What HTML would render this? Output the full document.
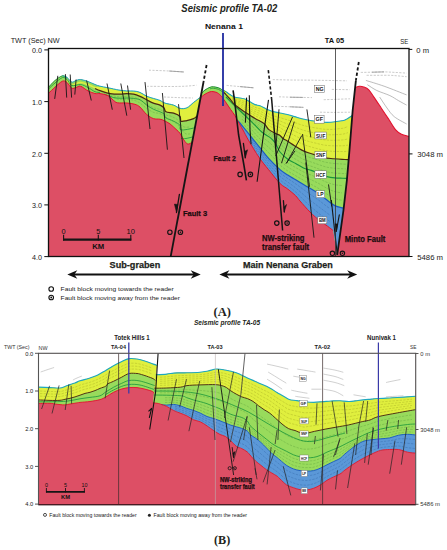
<!DOCTYPE html>
<html><head><meta charset="utf-8"><title>Seismic profiles</title>
<style>html,body{margin:0;padding:0;background:#fff;}body{width:447px;height:550px;overflow:hidden;font-family:"Liberation Sans",sans-serif;}svg{display:block;}</style>
</head><body>
<svg width="447" height="550" viewBox="0 0 447 550">
<rect x="48.5" y="48.5" width="360.5" height="208" fill="#DD4F65"/>
<path d="M48.5,48.5 L409,48.5 L409,136.4 L409,136.4 C407.8,136 403.7,135.3 401.5,134.2 C399.3,133.1 397.9,132.4 395.7,129.8 C393.5,127.3 390.9,122.5 388.5,118.9 C386.1,115.3 383.6,111.6 381.2,108 C378.8,104.4 376,100.1 373.9,97.1 C371.8,94.1 370.5,91.5 368.8,89.8 C367.1,88.1 365.3,87.5 363.7,86.9 C362.1,86.3 360.8,86.1 359.4,86.2 C358,86.3 355.8,87.4 355.1,87.6 L355.1,87.6 L352.7,110 L352.3,115.5 L352.3,115.5 C351.1,116.2 347,119.1 345,120 C343,120.9 342.4,120.6 340,121 C337.6,121.4 333.6,122 330.9,122.2 C328.2,122.4 326,122.4 323.6,122.2 C321.2,122 318.8,121.6 316.4,121.3 C314,121 311.5,120.7 309.1,120.3 C306.7,119.9 304.2,119.4 301.8,118.8 C299.4,118.2 296.9,117.3 294.5,116.6 C292.1,115.9 289.7,115.1 287.3,114.5 C284.9,113.9 282.6,113.5 280,113 C277.4,112.5 274.3,112 272,111.3 C269.7,110.6 268.2,109.8 266.2,108.9 C264.2,108 261.9,106.5 260,105.8 C258.1,105.1 256.7,105.3 255,104.6 C253.3,103.9 251.7,102.7 250,101.8 C248.3,100.9 246.7,99.6 245,99 C243.3,98.4 241.7,98.3 240,98 C238.3,97.7 236.7,97.8 235.1,97.3 C233.5,96.8 232.2,96 230.7,95.1 C229.2,94.2 227.7,92.6 226.2,91.7 C224.7,90.8 223,90.2 221.7,89.5 C220.4,88.8 219.8,88.2 218.4,87.8 C217,87.3 214.8,86.9 213.4,86.8 C212,86.7 211.4,86.8 210,87.3 C208.6,87.8 206.4,89 205,90 C203.6,91 201.9,92.9 201.3,93.5 L200.7,97 C199.5,97.9 195.9,100.6 193.6,102.4 C191.3,104.2 189.1,106.8 186.8,107.8 C184.5,108.8 182.2,108.8 180,108.3 C177.8,107.8 176.1,106 173.6,105.1 C171.1,104.2 167.3,103.9 165,103.1 C162.7,102.3 161.9,101.2 160,100.4 C158.1,99.6 155.6,99.1 153.4,98.4 C151.2,97.7 148.9,97.2 146.7,96.2 C144.5,95.2 142.2,93.3 140,92.4 C137.8,91.5 135.8,91.2 133.6,91 C131.4,90.8 129.1,91 126.8,90.9 C124.5,90.8 122.2,90.5 120,90.2 C117.8,89.9 115.6,89.4 113.4,88.9 C111.2,88.5 108.9,88 106.7,87.5 C104.5,87 102,86.7 100,86.2 C98,85.7 97,85.3 95,84.5 C93,83.7 90.4,82.3 88,81.5 C85.6,80.7 82.6,79.7 80.6,79.5 C78.6,79.3 77.5,80.1 76,80.5 C74.5,80.9 73.3,82.6 71.8,82.1 C70.3,81.6 68.6,78.5 67,77.5 C65.4,76.5 64.4,75.3 62.4,75.8 C60.4,76.3 57.3,78.6 55,80.5 C52.7,82.4 49.6,86.2 48.5,87.3 Z" fill="#fff"/>
<path d="M48.5,87.3 C49.6,86.2 52.7,82.4 55,80.5 C57.3,78.6 60.4,76.3 62.4,75.8 C64.4,75.3 65.4,76.5 67,77.5 C68.6,78.5 70.3,81.6 71.8,82.1 C73.3,82.6 74.5,80.9 76,80.5 C77.5,80.1 78.6,79.3 80.6,79.5 C82.6,79.7 85.6,80.7 88,81.5 C90.4,82.3 93,83.7 95,84.5 C97,85.3 98,85.7 100,86.2 C102,86.7 104.5,87 106.7,87.5 C108.9,88 111.2,88.5 113.4,88.9 C115.6,89.4 117.8,89.9 120,90.2 C122.2,90.5 124.5,90.8 126.8,90.9 C129.1,91 131.4,90.8 133.6,91 C135.8,91.2 137.8,91.5 140,92.4 C142.2,93.3 144.5,95.2 146.7,96.2 C148.9,97.2 151.2,97.7 153.4,98.4 C155.6,99.1 158.1,99.6 160,100.4 C161.9,101.2 162.7,102.3 165,103.1 C167.3,103.9 171.1,104.2 173.6,105.1 C176.1,106 177.8,107.8 180,108.3 C182.2,108.8 184.5,108.8 186.8,107.8 C189.1,106.8 191.3,104.2 193.6,102.4 C195.9,100.6 199.5,97.9 200.7,97  L192.4,141 C192.3,141.2 192.1,142 191.5,142.5 C190.9,143 189.8,143.9 189,144 C188.2,144.1 187.5,144.2 186.5,143.3 C185.5,142.4 184.1,140.4 183,138.7 C181.9,137 181.2,134.9 180,133.3 C178.8,131.7 177.7,130.9 176,129.3 C174.3,127.7 172,125.4 170,123.9 C168,122.5 165.7,121.4 164,120.6 C162.3,119.8 161.8,119.5 160,119.2 C158.2,118.9 155.6,119.4 153.4,118.6 C151.2,117.8 148.9,116.4 146.7,114.5 C144.5,112.6 142,108.8 140,107.1 C138,105.4 137.1,105 134.9,104.3 C132.7,103.6 129.7,103.2 126.8,103 C123.9,102.8 119.6,103.2 117.4,102.8 C115.2,102.3 115,101.5 113.4,100.3 C111.8,99.1 110.2,96.7 108,95.6 C105.8,94.5 102.2,93.9 100,93.6 C97.8,93.2 97,94 95,93.5 C93,93 90.4,92.1 88,90.9 C85.6,89.7 82.6,86.8 80.6,86.2 C78.6,85.6 77.5,87.2 76,87.5 C74.5,87.8 73.3,89 71.8,88.2 C70.3,87.4 68.6,83.7 67,82.5 C65.4,81.3 64.4,80.4 62.4,81.2 C60.4,82 57.3,85.2 55,87.2 C52.7,89.2 49.6,92.3 48.5,93.3 Z" fill="#98DB5C"/>
<path d="M67,79.8 C67.8,80.6 70.3,83.9 71.8,84.4 C73.3,84.9 74.5,83.2 76,82.8 C77.5,82.4 78.6,81.6 80.6,81.8 C82.6,82 85.6,83 88,83.8 C90.4,84.6 93,86.3 95,86.8 C97,87.3 98,86.6 100,86.8 C102,87 104.5,87.6 106.7,88.1 C108.9,88.5 111.2,89 113.4,89.5 C115.6,90 117.8,90.5 120,90.8 C122.2,91.1 124.5,91.4 126.8,91.5 C129.1,91.6 131.4,91.3 133.6,91.6 C135.8,91.8 137.8,92.1 140,93 C142.2,93.9 144.5,95.8 146.7,96.8 C148.9,97.8 151.2,98.3 153.4,99 C155.6,99.7 158.1,100.2 160,101 C161.9,101.8 162.7,102.9 165,103.7 C167.3,104.5 171.1,104.8 173.6,105.7 C176.1,106.6 177.8,108.4 180,108.9 C182.2,109.3 184.5,109.4 186.8,108.4 C189.1,107.4 191.3,104.8 193.6,103 C195.9,101.2 199.5,98.5 200.7,97.6  L197.1,116 C196.5,116.4 195.3,117.8 193.6,118.6 C191.9,119.4 188.9,120.2 186.8,120.6 C184.7,121 182.1,121.9 181,121.2 C179.9,120.5 181.2,117.8 180,116.5 C178.8,115.2 175.9,114 173.6,113.2 C171.3,112.4 167.6,112.7 166,111.8 C164.4,110.9 165,108.9 164,107.8 C163,106.7 161.8,105.9 160,105.1 C158.2,104.3 155.6,104 153.4,103.1 C151.2,102.2 148.9,100.9 146.7,99.8 C144.5,98.7 142.2,97.3 140,96.4 C137.8,95.5 135.8,94.7 133.6,94.2 C131.4,93.7 129.1,93.6 126.8,93.6 C124.5,93.6 122.8,94.2 120,94.2 C117.2,94.2 113.3,94.2 110,93.6 C106.7,93 102.5,91.4 100,90.6 C97.5,89.8 97,89.3 95,88.5 C93,87.7 90.4,86.4 88,85.5 C85.6,84.6 83.3,83.3 80.6,83.3 C77.9,83.3 74.2,86 71.8,85.5 C69.4,85 67,80.9 66,80 Z" fill="#E0EF3E"/>
<path d="M48.5,89 C49.6,88 52.7,84.9 55,83 C57.3,81.1 60.4,78.2 62.4,77.6 C64.4,77 65.4,78.2 67,79.5 C68.6,80.8 69.5,84.7 71.8,85.5 C74.1,86.3 77.9,84.2 80.6,84.5 C83.3,84.8 85.6,86.3 88,87.5 C90.4,88.7 93,90.9 95,91.7 C97,92.5 99.2,92.4 100,92.5" fill="none" stroke="#19963A" stroke-width="0.8" />
<path d="M104,94 C105.6,94.6 110.7,96.8 113.4,97.5 C116.1,98.2 117.8,98.1 120,98.2 C122.2,98.3 124.5,98 126.8,98 C129.1,98 131.4,98.2 133.6,98.5 C135.8,98.8 137.8,98.7 140,99.8 C142.2,100.9 144.5,103.5 146.7,105.1 C148.9,106.7 151.2,108.1 153.4,109.2 C155.6,110.3 158.2,111 160,111.8 C161.8,112.6 163,113 164,114 C165,115 164.4,116.7 166,117.9 C167.6,119.1 171.3,120 173.6,121.2 C175.9,122.4 178.8,123.8 180,125.3 C181.2,126.8 178.7,129.6 181,130 C183.3,130.4 191.2,128.7 193.6,128 C196,127.3 195,126.3 195.2,126" fill="none" stroke="#19963A" stroke-width="0.8" />
<path d="M181,138.5 C181.8,138.5 183.9,138.8 186,138.5 C188.1,138.2 192.3,137 193.6,136.7" fill="none" stroke="#19963A" stroke-width="0.8" />
<path d="M95,88.5 C95.8,88.8 97.5,89.8 100,90.6 C102.5,91.4 106.7,93 110,93.6 C113.3,94.2 117.2,94.2 120,94.2 C122.8,94.2 124.5,93.6 126.8,93.6 C129.1,93.6 131.4,93.7 133.6,94.2 C135.8,94.7 137.8,95.5 140,96.4 C142.2,97.3 144.5,98.7 146.7,99.8 C148.9,100.9 151.2,102.2 153.4,103.1 C155.6,104 158.2,104.3 160,105.1 C161.8,105.9 163,106.7 164,107.8 C165,108.9 164.4,110.9 166,111.8 C167.6,112.7 171.3,112.4 173.6,113.2 C175.9,114 178.8,115.2 180,116.5 C181.2,117.8 179.9,120.5 181,121.2 C182.1,121.9 184.7,121 186.8,120.6 C188.9,120.2 191.9,119.4 193.6,118.6 C195.3,117.8 196.5,116.4 197.1,116" fill="none" stroke="#4A2A12" stroke-width="1.25" />
<path d="M48.5,87.3 C49.6,86.2 52.7,82.4 55,80.5 C57.3,78.6 60.4,76.3 62.4,75.8 C64.4,75.3 66.2,77.2 67,77.5" fill="none" stroke="#19963A" stroke-width="0.9" />
<path d="M62.4,75.8 C63.2,76.1 65.4,76.5 67,77.5 C68.6,78.5 70.3,81.6 71.8,82.1 C73.3,82.6 74.5,80.9 76,80.5 C77.5,80.1 78.6,79.3 80.6,79.5 C82.6,79.7 85.6,80.7 88,81.5 C90.4,82.3 93,83.7 95,84.5 C97,85.3 98,85.7 100,86.2 C102,86.7 104.5,87 106.7,87.5 C108.9,88 111.2,88.5 113.4,88.9 C115.6,89.4 117.8,89.9 120,90.2 C122.2,90.5 124.5,90.8 126.8,90.9 C129.1,91 131.4,90.8 133.6,91 C135.8,91.2 137.8,91.5 140,92.4 C142.2,93.3 144.5,95.2 146.7,96.2 C148.9,97.2 151.2,97.7 153.4,98.4 C155.6,99.1 158.1,99.6 160,100.4 C161.9,101.2 162.7,102.3 165,103.1 C167.3,103.9 171.1,104.2 173.6,105.1 C176.1,106 177.8,107.8 180,108.3 C182.2,108.8 184.5,108.8 186.8,107.8 C189.1,106.8 191.3,104.2 193.6,102.4 C195.9,100.6 199.5,97.9 200.7,97" fill="none" stroke="#1FA8BE" stroke-width="1.0" />
<path d="M48.5,93.3 C49.6,92.3 52.7,89.2 55,87.2 C57.3,85.2 60.4,82 62.4,81.2 C64.4,80.4 65.4,81.3 67,82.5 C68.6,83.7 70.3,87.4 71.8,88.2 C73.3,89 74.5,87.8 76,87.5 C77.5,87.2 78.6,85.6 80.6,86.2 C82.6,86.8 85.6,89.7 88,90.9 C90.4,92.1 93,93 95,93.5 C97,94 97.8,93.2 100,93.6 C102.2,93.9 105.8,94.5 108,95.6 C110.2,96.7 111.8,99.1 113.4,100.3 C115,101.5 115.2,102.3 117.4,102.8 C119.6,103.2 123.9,102.8 126.8,103 C129.7,103.2 132.7,103.6 134.9,104.3 C137.1,105 138,105.4 140,107.1 C142,108.8 144.5,112.6 146.7,114.5 C148.9,116.4 151.2,117.8 153.4,118.6 C155.6,119.4 158.2,118.9 160,119.2 C161.8,119.5 162.3,119.8 164,120.6 C165.7,121.4 168,122.5 170,123.9 C172,125.4 174.3,127.7 176,129.3 C177.7,130.9 178.8,131.7 180,133.3 C181.2,134.9 181.9,137 183,138.7 C184.1,140.4 185.5,142.4 186.5,143.3 C187.5,144.2 188.2,144.1 189,144 C189.8,143.9 190.9,143 191.5,142.5 C192.1,142 192.3,141.2 192.4,141" fill="none" stroke="#E3122E" stroke-width="1.0" />
<path d="M201.3,93.5 C201.9,92.9 203.6,91 205,90 C206.4,89 208.6,87.8 210,87.3 C211.4,86.8 212,86.7 213.4,86.8 C214.8,86.9 217,87.3 218.4,87.8 C219.8,88.2 220.4,88.8 221.7,89.5 C223,90.2 224.7,90.8 226.2,91.7 C227.7,92.6 229.2,94.2 230.7,95.1 C232.2,96 233.5,96.8 235.1,97.3 C236.7,97.8 238.3,97.7 240,98 C241.7,98.3 243.3,98.4 245,99 C246.7,99.6 248.3,100.9 250,101.8 C251.7,102.7 253.3,103.9 255,104.6 C256.7,105.3 258.1,105.1 260,105.8 C261.9,106.5 264.2,108 266.2,108.9 C268.2,109.8 269.7,110.6 272,111.3 C274.3,112 277.4,112.5 280,113 C282.6,113.5 284.9,113.9 287.3,114.5 C289.7,115.1 292.1,115.9 294.5,116.6 C296.9,117.3 299.4,118.2 301.8,118.8 C304.2,119.4 306.7,119.9 309.1,120.3 C311.5,120.7 314,121 316.4,121.3 C318.8,121.6 321.2,122 323.6,122.2 C326,122.4 328.2,122.4 330.9,122.2 C333.6,122 337.6,121.4 340,121 C342.4,120.6 343,120.9 345,120 C347,119.1 351.1,116.2 352.3,115.5 L352.3,115.5 L349.5,150 L346.9,180 L343.5,210 L337.2,255 L333.2,230.5 L333.2,230.5 C333,230.3 333.2,230.5 332,229.6 C330.8,228.7 328,226.5 326,225.1 C324,223.7 322.7,223.2 320,221 C317.3,218.8 313.3,215.3 310,212 C306.7,208.7 302.4,203.7 300,201 C297.6,198.3 297.7,197.8 295.7,195.8 C293.7,193.8 290.4,191.2 287.8,189.1 C285.2,187 283.2,186.7 280,183.5 C276.8,180.3 272.1,174 268.6,169.7 C265.1,165.4 262.6,162.5 259.2,157.6 C255.8,152.7 251.1,144.7 248.4,140.1 C245.7,135.5 244.8,133.2 243,130 C241.2,126.8 239,123.4 237.7,121 C236.4,118.6 236.3,117.7 235.1,115.8 C233.9,113.9 232.2,111.8 230.7,109.6 C229.2,107.4 227.7,105.1 226.2,102.9 C224.7,100.7 223,98.2 221.7,96.6 C220.4,95 219.3,94.2 218.4,93.5 C217.5,92.8 216.9,92.5 216,92.2 C215.1,91.9 214,91.7 213,91.6 C212,91.5 211.3,91.4 210,91.8 C208.7,92.2 206.6,93.2 205,94.2 C203.4,95.2 201.3,97 200.6,97.5 Z" fill="#98DB5C"/>
<path d="M224,91.5 C224.4,91.5 225.1,91.1 226.2,91.7 C227.3,92.3 229.2,94.2 230.7,95.1 C232.2,96 233.5,96.8 235.1,97.3 C236.7,97.8 238.3,97.7 240,98 C241.7,98.3 243.3,98.4 245,99 C246.7,99.6 248.3,100.9 250,101.8 C251.7,102.7 253.3,103.9 255,104.6 C256.7,105.3 258.1,105.1 260,105.8 C261.9,106.5 264.2,108 266.2,108.9 C268.2,109.8 269.7,110.6 272,111.3 C274.3,112 277.4,112.5 280,113 C282.6,113.5 284.9,113.9 287.3,114.5 C289.7,115.1 292.1,115.9 294.5,116.6 C296.9,117.3 299.4,118.2 301.8,118.8 C304.2,119.4 306.7,119.9 309.1,120.3 C311.5,120.7 314,121 316.4,121.3 C318.8,121.6 321.2,122 323.6,122.2 C326,122.4 328.2,122.4 330.9,122.2 C333.6,122 337.6,121.4 340,121 C342.4,120.6 343,120.9 345,120 C347,119.1 351.1,116.2 352.3,115.5 L352.3,115.5 L349.5,150 L348.7,159.6 L348.7,159.6 C348.1,159.6 348,159.7 345,159.5 C342,159.3 334.5,158.9 330.9,158.5 C327.3,158.1 326,157.9 323.6,157.3 C321.2,156.8 318.8,155.9 316.4,155.2 C314,154.5 311.5,153.8 309.1,153 C306.7,152.2 304.2,151.3 301.8,150.1 C299.4,148.9 296.9,147.2 294.5,145.7 C292.1,144.2 289.2,142.2 287.3,141 C285.4,139.8 284.5,139.7 283.3,138.8 C282.1,137.9 281.3,136.4 280,135.5 C278.7,134.6 277.2,134.4 275.3,133.4 C273.4,132.4 270.5,131.1 268.6,129.4 C266.7,127.8 266.2,125.3 264,123.5 C261.8,121.7 258.3,120.4 255.1,118.5 C251.9,116.6 248.3,114.2 245,112 C241.7,109.8 237.6,107.2 235.1,105 C232.6,102.8 231.8,101.1 230,99 C228.2,96.9 225,93.6 224,92.5 Z" fill="#E0EF3E"/>
<path d="M237.7,121 C237.9,121.2 237.2,119.9 239,122 C240.8,124.1 245,129.3 248.4,133.4 C251.8,137.5 255.8,142.7 259.2,146.8 C262.6,151 265.1,154.5 268.6,158.3 C272.1,162.1 276.8,166.8 280,169.6 C283.2,172.4 285.2,173.4 287.8,175.1 C290.4,176.8 293.1,178.2 295.7,179.8 C298.3,181.4 300.9,182.9 303.5,184.4 C306.1,185.9 308.7,187.5 311.3,189.1 C313.9,190.7 316.5,192 319.1,193.8 C321.7,195.6 324.4,198.1 327,200.1 C329.6,202.1 332.2,204.3 334.8,205.6 C337.4,206.9 341.1,207.5 342.6,207.9 C344.1,208.3 343.5,208 343.7,208 L343.7,208 L343.5,210 L337.2,255 L333.2,230.5 L333.2,230.5 C333,230.3 333.2,230.5 332,229.6 C330.8,228.7 328,226.5 326,225.1 C324,223.7 322.7,223.2 320,221 C317.3,218.8 313.3,215.3 310,212 C306.7,208.7 302.4,203.7 300,201 C297.6,198.3 297.7,197.8 295.7,195.8 C293.7,193.8 290.4,191.2 287.8,189.1 C285.2,187 283.2,186.7 280,183.5 C276.8,180.3 272.1,174 268.6,169.7 C265.1,165.4 262.6,162.5 259.2,157.6 C255.8,152.7 251.1,144.7 248.4,140.1 C245.7,135.5 244.8,133.2 243,130 C241.2,126.8 238.6,122.5 237.7,121 Z" fill="#5B98D8"/>
<path d="M232,96.9 C232.7,97.2 234.7,98.5 236,99.1 C237.3,99.6 238.7,99.7 240,100.1 C241.3,100.5 242.7,100.8 244,101.3 C245.3,101.8 246.7,102.6 248,103.3 C249.3,104.1 250.7,104.9 252,105.6 C253.3,106.4 254.7,107.1 256,107.7 C257.3,108.2 258.7,108.3 260,108.9 C261.3,109.4 262.7,110.2 264,110.9 C265.3,111.7 266.7,112.7 268,113.4 C269.3,114.2 270.7,114.8 272,115.3 C273.3,115.8 274.7,116.1 276,116.5 C277.3,116.8 278.7,117.1 280,117.5 C281.3,117.9 282.7,118.5 284,118.9 C285.3,119.3 286.7,119.6 288,120.1 C289.3,120.5 290.7,121 292,121.5 C293.3,122 294.7,122.5 296,123 C297.3,123.4 298.7,124 300,124.4 C301.3,124.8 302.7,125.2 304,125.6 C305.3,126 306.7,126.3 308,126.6 C309.3,126.9 310.7,127.1 312,127.3 C313.3,127.6 314.7,127.8 316,128 C317.3,128.2 318.7,128.4 320,128.7 C321.3,128.9 322.7,129.1 324,129.2 C325.3,129.4 326.7,129.3 328,129.4 C329.3,129.4 330.7,129.4 332,129.4 C333.3,129.3 334.7,129.1 336,129 C337.3,128.9 338.7,128.8 340,128.6 C341.3,128.5 342.7,128.4 344,128 C345.3,127.7 347.3,126.7 348,126.4" fill="none" stroke="#7a7a10" stroke-width="0.45" stroke-dasharray="2.4,1.2" opacity="0.55"/><path d="M232,97.7 C232.7,98.1 234.7,99.6 236,100.3 C237.3,101 238.7,101.2 240,101.7 C241.3,102.1 242.7,102.6 244,103.2 C245.3,103.8 246.7,104.6 248,105.3 C249.3,106.1 250.7,106.9 252,107.7 C253.3,108.4 254.7,109.2 256,109.8 C257.3,110.4 258.7,110.6 260,111.2 C261.3,111.8 262.7,112.4 264,113.3 C265.3,114.1 266.7,115.4 268,116.3 C269.3,117.1 270.7,117.8 272,118.3 C273.3,118.9 274.7,119.3 276,119.7 C277.3,120.1 278.7,120.4 280,120.9 C281.3,121.4 282.7,122.2 284,122.7 C285.3,123.2 286.7,123.6 288,124.1 C289.3,124.6 290.7,125.2 292,125.7 C293.3,126.3 294.7,126.8 296,127.4 C297.3,127.9 298.7,128.5 300,129 C301.3,129.5 302.7,130 304,130.4 C305.3,130.8 306.7,131.1 308,131.4 C309.3,131.8 310.7,132 312,132.3 C313.3,132.6 314.7,132.8 316,133.1 C317.3,133.3 318.7,133.6 320,133.8 C321.3,134.1 322.7,134.4 324,134.5 C325.3,134.7 326.7,134.7 328,134.7 C329.3,134.8 330.7,134.9 332,134.8 C333.3,134.8 334.7,134.7 336,134.6 C337.3,134.5 338.7,134.5 340,134.4 C341.3,134.2 342.7,134.2 344,133.9 C345.3,133.6 347.3,132.9 348,132.6" fill="none" stroke="#7a7a10" stroke-width="0.45" stroke-dasharray="2.4,1.2" opacity="0.55"/><path d="M232,98.6 C232.7,99 234.7,100.8 236,101.5 C237.3,102.3 238.7,102.6 240,103.2 C241.3,103.8 242.7,104.4 244,105 C245.3,105.7 246.7,106.5 248,107.3 C249.3,108.1 250.7,108.9 252,109.7 C253.3,110.5 254.7,111.3 256,111.9 C257.3,112.6 258.7,112.9 260,113.5 C261.3,114.1 262.7,114.7 264,115.7 C265.3,116.6 266.7,118.2 268,119.1 C269.3,120.1 270.7,120.7 272,121.4 C273.3,122 274.7,122.5 276,122.9 C277.3,123.4 278.7,123.7 280,124.2 C281.3,124.8 282.7,125.9 284,126.5 C285.3,127.1 286.7,127.5 288,128.1 C289.3,128.7 290.7,129.3 292,130 C293.3,130.6 294.7,131.2 296,131.8 C297.3,132.4 298.7,133.1 300,133.6 C301.3,134.2 302.7,134.7 304,135.1 C305.3,135.6 306.7,136 308,136.3 C309.3,136.7 310.7,137 312,137.3 C313.3,137.6 314.7,137.9 316,138.2 C317.3,138.4 318.7,138.7 320,139 C321.3,139.3 322.7,139.6 324,139.8 C325.3,140 326.7,140 328,140.1 C329.3,140.2 330.7,140.3 332,140.3 C333.3,140.3 334.7,140.2 336,140.2 C337.3,140.2 338.7,140.1 340,140.1 C341.3,140 342.7,140 344,139.8 C345.3,139.6 347.3,139 348,138.9" fill="none" stroke="#7a7a10" stroke-width="0.45" stroke-dasharray="2.4,1.2" opacity="0.55"/><path d="M232,99.4 C232.7,100 234.7,101.9 236,102.8 C237.3,103.7 238.7,104.1 240,104.8 C241.3,105.5 242.7,106.2 244,106.9 C245.3,107.7 246.7,108.5 248,109.3 C249.3,110.1 250.7,111 252,111.8 C253.3,112.5 254.7,113.4 256,114 C257.3,114.7 258.7,115.2 260,115.8 C261.3,116.5 262.7,117 264,118 C265.3,119 266.7,120.9 268,122 C269.3,123 270.7,123.7 272,124.4 C273.3,125.1 274.7,125.6 276,126.2 C277.3,126.7 278.7,126.9 280,127.6 C281.3,128.3 282.7,129.6 284,130.3 C285.3,131.1 286.7,131.4 288,132.1 C289.3,132.7 290.7,133.5 292,134.2 C293.3,134.9 294.7,135.6 296,136.3 C297.3,136.9 298.7,137.6 300,138.2 C301.3,138.9 302.7,139.4 304,139.9 C305.3,140.4 306.7,140.8 308,141.2 C309.3,141.6 310.7,141.9 312,142.3 C313.3,142.6 314.7,142.9 316,143.2 C317.3,143.6 318.7,143.9 320,144.2 C321.3,144.5 322.7,144.8 324,145.1 C325.3,145.3 326.7,145.4 328,145.5 C329.3,145.6 330.7,145.7 332,145.8 C333.3,145.8 334.7,145.8 336,145.8 C337.3,145.8 338.7,145.8 340,145.8 C341.3,145.8 342.7,145.8 344,145.7 C345.3,145.6 347.3,145.2 348,145.1" fill="none" stroke="#7a7a10" stroke-width="0.45" stroke-dasharray="2.4,1.2" opacity="0.55"/><path d="M232,100.2 C232.7,100.9 234.7,103 236,104 C237.3,105 238.7,105.6 240,106.4 C241.3,107.2 242.7,108 244,108.8 C245.3,109.6 246.7,110.4 248,111.3 C249.3,112.1 250.7,113 252,113.8 C253.3,114.6 254.7,115.4 256,116.2 C257.3,116.9 258.7,117.5 260,118.2 C261.3,118.9 262.7,119.2 264,120.4 C265.3,121.5 266.7,123.7 268,124.8 C269.3,126 270.7,126.6 272,127.4 C273.3,128.2 274.7,128.8 276,129.4 C277.3,130 278.7,130.2 280,131 C281.3,131.8 282.7,133.3 284,134.1 C285.3,135 286.7,135.4 288,136.1 C289.3,136.8 290.7,137.7 292,138.4 C293.3,139.2 294.7,140 296,140.7 C297.3,141.4 298.7,142.2 300,142.9 C301.3,143.5 302.7,144.1 304,144.6 C305.3,145.2 306.7,145.6 308,146.1 C309.3,146.5 310.7,146.9 312,147.2 C313.3,147.6 314.7,148 316,148.3 C317.3,148.7 318.7,149 320,149.3 C321.3,149.7 322.7,150.1 324,150.3 C325.3,150.6 326.7,150.7 328,150.9 C329.3,151 330.7,151.2 332,151.3 C333.3,151.4 334.7,151.4 336,151.4 C337.3,151.4 338.7,151.5 340,151.5 C341.3,151.5 342.7,151.6 344,151.6 C345.3,151.5 347.3,151.3 348,151.3" fill="none" stroke="#7a7a10" stroke-width="0.45" stroke-dasharray="2.4,1.2" opacity="0.55"/>
<path d="M238,107.5 C238.7,108 240.7,109.6 242,110.6 C243.3,111.6 244.7,112.6 246,113.6 C247.3,114.6 248.7,115.5 250,116.5 C251.3,117.4 252.7,118.4 254,119.4 C255.3,120.3 256.7,121.2 258,122.1 C259.3,123.1 260.7,123.8 262,124.8 C263.3,125.8 264.7,127 266,128.2 C267.3,129.5 268.7,130.9 270,132.1 C271.3,133.2 272.7,133.9 274,134.9 C275.3,135.9 276.7,136.9 278,138 C279.3,139.1 280.7,140.5 282,141.6 C283.3,142.7 284.7,143.7 286,144.6 C287.3,145.5 288.7,146.3 290,147.2 C291.3,148 292.7,148.9 294,149.7 C295.3,150.5 296.7,151.3 298,152.1 C299.3,152.9 300.7,153.8 302,154.4 C303.3,155.1 304.7,155.5 306,156 C307.3,156.5 308.7,157 310,157.5 C311.3,157.9 312.7,158.3 314,158.7 C315.3,159.2 316.7,159.6 318,160 C319.3,160.4 320.7,160.9 322,161.3 C323.3,161.7 324.7,162 326,162.3 C327.3,162.6 328.7,162.8 330,163 C331.3,163.2 332.7,163.4 334,163.5 C335.3,163.6 336.7,163.7 338,163.8 C339.3,163.8 340.7,163.9 342,164 C343.3,164.1 345.3,164.2 346,164.2" fill="none" stroke="#3a7a2a" stroke-width="0.45" stroke-dasharray="2.4,1.2" opacity="0.55"/><path d="M238,108 C238.7,108.5 240.7,110.2 242,111.3 C243.3,112.4 244.7,113.5 246,114.5 C247.3,115.6 248.7,116.7 250,117.7 C251.3,118.8 252.7,119.9 254,121 C255.3,122.1 256.7,123.1 258,124.2 C259.3,125.2 260.7,126.2 262,127.3 C263.3,128.3 264.7,129.3 266,130.4 C267.3,131.5 268.7,132.8 270,133.9 C271.3,135 272.7,135.9 274,137.1 C275.3,138.4 276.7,140 278,141.4 C279.3,142.8 280.7,144.4 282,145.7 C283.3,146.9 284.7,147.9 286,148.9 C287.3,149.9 288.7,150.7 290,151.6 C291.3,152.4 292.7,153.2 294,154 C295.3,154.8 296.7,155.5 298,156.3 C299.3,157.1 300.7,158 302,158.7 C303.3,159.3 304.7,159.8 306,160.3 C307.3,160.8 308.7,161.2 310,161.6 C311.3,162.1 312.7,162.5 314,163 C315.3,163.4 316.7,163.9 318,164.4 C319.3,164.8 320.7,165.3 322,165.7 C323.3,166.2 324.7,166.6 326,167 C327.3,167.3 328.7,167.5 330,167.7 C331.3,167.9 332.7,168.1 334,168.2 C335.3,168.4 336.7,168.4 338,168.5 C339.3,168.6 340.7,168.7 342,168.7 C343.3,168.8 345.3,168.9 346,168.9" fill="none" stroke="#3a7a2a" stroke-width="0.45" stroke-dasharray="2.4,1.2" opacity="0.55"/><path d="M238,108.4 C238.7,109 240.7,110.8 242,112 C243.3,113.1 244.7,114.3 246,115.5 C247.3,116.7 248.7,117.8 250,119 C251.3,120.2 252.7,121.4 254,122.6 C255.3,123.8 256.7,125 258,126.2 C259.3,127.4 260.7,128.6 262,129.7 C263.3,130.8 264.7,131.6 266,132.6 C267.3,133.6 268.7,134.6 270,135.7 C271.3,136.8 272.7,137.9 274,139.4 C275.3,140.9 276.7,143.1 278,144.8 C279.3,146.5 280.7,148.4 282,149.8 C283.3,151.2 284.7,152.2 286,153.2 C287.3,154.3 288.7,155.1 290,156 C291.3,156.8 292.7,157.5 294,158.3 C295.3,159 296.7,159.8 298,160.6 C299.3,161.3 300.7,162.2 302,162.9 C303.3,163.6 304.7,164 306,164.5 C307.3,165 308.7,165.4 310,165.8 C311.3,166.3 312.7,166.7 314,167.2 C315.3,167.7 316.7,168.2 318,168.7 C319.3,169.2 320.7,169.7 322,170.2 C323.3,170.7 324.7,171.2 326,171.6 C327.3,172 328.7,172.2 330,172.4 C331.3,172.7 332.7,172.9 334,173 C335.3,173.1 336.7,173.2 338,173.3 C339.3,173.3 340.7,173.4 342,173.5 C343.3,173.5 345.3,173.6 346,173.6" fill="none" stroke="#3a7a2a" stroke-width="0.45" stroke-dasharray="2.4,1.2" opacity="0.55"/>
<path d="M242,115.9 C242.7,116.6 244.7,118.6 246,120 C247.3,121.3 248.7,122.7 250,124 C251.3,125.4 252.7,126.8 254,128.2 C255.3,129.6 256.7,131.1 258,132.5 C259.3,133.9 260.7,135.4 262,136.7 C263.3,137.9 264.7,138.8 266,139.9 C267.3,140.9 268.7,141.8 270,143 C271.3,144.3 272.7,145.5 274,147.2 C275.3,148.8 276.7,151.2 278,153 C279.3,154.9 280.7,156.7 282,158.1 C283.3,159.6 284.7,160.6 286,161.6 C287.3,162.7 288.7,163.6 290,164.4 C291.3,165.2 292.7,165.9 294,166.6 C295.3,167.4 296.7,168.1 298,168.9 C299.3,169.7 300.7,170.5 302,171.2 C303.3,171.9 304.7,172.5 306,173.1 C307.3,173.6 308.7,174 310,174.6 C311.3,175.1 312.7,175.7 314,176.3 C315.3,176.9 316.7,177.5 318,178.1 C319.3,178.7 320.7,179.4 322,180 C323.3,180.7 324.7,181.4 326,182 C327.3,182.5 328.7,182.9 330,183.4 C331.3,183.8 332.7,184.3 334,184.6 C335.3,184.9 336.7,185 338,185.2 C339.3,185.3 341.3,185.5 342,185.6" fill="none" stroke="#3a7a2a" stroke-width="0.45" stroke-dasharray="2.4,1.2" opacity="0.55"/><path d="M242,119.1 C242.7,119.9 244.7,122 246,123.5 C247.3,124.9 248.7,126.4 250,127.8 C251.3,129.3 252.7,130.8 254,132.3 C255.3,133.8 256.7,135.3 258,136.8 C259.3,138.2 260.7,139.8 262,141.2 C263.3,142.5 264.7,143.7 266,145 C267.3,146.2 268.7,147.3 270,148.6 C271.3,149.9 272.7,151.1 274,152.7 C275.3,154.2 276.7,156.3 278,157.9 C279.3,159.5 280.7,161.1 282,162.4 C283.3,163.7 284.7,164.7 286,165.7 C287.3,166.7 288.7,167.6 290,168.4 C291.3,169.2 292.7,169.9 294,170.7 C295.3,171.4 296.7,172.2 298,173 C299.3,173.8 300.7,174.6 302,175.3 C303.3,176 304.7,176.7 306,177.3 C307.3,178 308.7,178.5 310,179.2 C311.3,179.8 312.7,180.4 314,181.1 C315.3,181.8 316.7,182.4 318,183.1 C319.3,183.8 320.7,184.6 322,185.4 C323.3,186.2 324.7,187 326,187.8 C327.3,188.5 328.7,189 330,189.7 C331.3,190.3 332.7,191 334,191.4 C335.3,191.8 336.7,192 338,192.3 C339.3,192.5 341.3,192.8 342,192.9" fill="none" stroke="#3a7a2a" stroke-width="0.45" stroke-dasharray="2.4,1.2" opacity="0.55"/><path d="M242,122.4 C242.7,123.2 244.7,125.4 246,127 C247.3,128.5 248.7,130 250,131.6 C251.3,133.2 252.7,134.7 254,136.3 C255.3,137.9 256.7,139.5 258,141 C259.3,142.6 260.7,144.2 262,145.7 C263.3,147.2 264.7,148.6 266,150 C267.3,151.4 268.7,152.8 270,154.1 C271.3,155.5 272.7,156.7 274,158.2 C275.3,159.6 276.7,161.3 278,162.8 C279.3,164.2 280.7,165.6 282,166.7 C283.3,167.9 284.7,168.8 286,169.8 C287.3,170.7 288.7,171.6 290,172.4 C291.3,173.2 292.7,174 294,174.7 C295.3,175.5 296.7,176.3 298,177.1 C299.3,177.9 300.7,178.7 302,179.4 C303.3,180.2 304.7,180.9 306,181.6 C307.3,182.3 308.7,183 310,183.7 C311.3,184.5 312.7,185.2 314,185.9 C315.3,186.6 316.7,187.3 318,188.1 C319.3,188.9 320.7,189.8 322,190.7 C323.3,191.6 324.7,192.7 326,193.5 C327.3,194.4 328.7,195.2 330,195.9 C331.3,196.7 332.7,197.6 334,198.2 C335.3,198.8 336.7,199.1 338,199.4 C339.3,199.8 341.3,200.2 342,200.3" fill="none" stroke="#3a7a2a" stroke-width="0.45" stroke-dasharray="2.4,1.2" opacity="0.55"/>
<path d="M250,137.2 C250.7,138.1 252.7,140.8 254,142.6 C255.3,144.3 256.7,146.2 258,147.9 C259.3,149.6 260.7,151.3 262,153 C263.3,154.6 264.7,156.3 266,157.9 C267.3,159.5 268.7,161.1 270,162.6 C271.3,164.1 272.7,165.4 274,166.8 C275.3,168.2 276.7,169.7 278,171 C279.3,172.3 280.7,173.4 282,174.5 C283.3,175.5 284.7,176.4 286,177.3 C287.3,178.3 288.7,179.2 290,180 C291.3,180.9 292.7,181.8 294,182.7 C295.3,183.6 296.7,184.6 298,185.5 C299.3,186.5 300.7,187.5 302,188.4 C303.3,189.4 304.7,190.4 306,191.3 C307.3,192.3 308.7,193.3 310,194.2 C311.3,195.2 312.7,196 314,196.9 C315.3,197.8 316.7,198.7 318,199.7 C319.3,200.6 320.7,201.7 322,202.7 C323.3,203.7 324.7,204.8 326,205.8 C327.3,206.8 329.3,208.2 330,208.7" fill="none" stroke="#1d4f8f" stroke-width="0.45" stroke-dasharray="2.4,1.2" opacity="0.6"/><path d="M250,139 C250.7,140 252.7,142.9 254,144.8 C255.3,146.7 256.7,148.7 258,150.5 C259.3,152.3 260.7,154 262,155.7 C263.3,157.4 264.7,159.1 266,160.7 C267.3,162.4 268.7,164 270,165.5 C271.3,167.1 272.7,168.5 274,169.9 C275.3,171.4 276.7,173 278,174.3 C279.3,175.7 280.7,176.9 282,178 C283.3,179.1 284.7,179.9 286,180.8 C287.3,181.8 288.7,182.7 290,183.7 C291.3,184.6 292.7,185.5 294,186.6 C295.3,187.6 296.7,188.7 298,189.9 C299.3,191 300.7,192.2 302,193.4 C303.3,194.5 304.7,195.6 306,196.8 C307.3,197.9 308.7,199.1 310,200.2 C311.3,201.2 312.7,202.2 314,203.2 C315.3,204.2 316.7,205.2 318,206.2 C319.3,207.2 320.7,208.2 322,209.2 C323.3,210.2 324.7,211.2 326,212.2 C327.3,213.2 329.3,214.7 330,215.2" fill="none" stroke="#1d4f8f" stroke-width="0.45" stroke-dasharray="2.4,1.2" opacity="0.6"/><path d="M250,140.9 C250.7,141.9 252.7,144.9 254,147 C255.3,149 256.7,151.2 258,153.1 C259.3,155 260.7,156.7 262,158.5 C263.3,160.2 264.7,161.9 266,163.5 C267.3,165.2 268.7,166.9 270,168.5 C271.3,170.1 272.7,171.5 274,173.1 C275.3,174.6 276.7,176.3 278,177.7 C279.3,179.1 280.7,180.4 282,181.5 C283.3,182.6 284.7,183.3 286,184.3 C287.3,185.3 288.7,186.3 290,187.3 C291.3,188.4 292.7,189.3 294,190.5 C295.3,191.6 296.7,192.9 298,194.2 C299.3,195.5 300.7,197 302,198.3 C303.3,199.6 304.7,200.9 306,202.2 C307.3,203.5 308.7,204.9 310,206.1 C311.3,207.3 312.7,208.3 314,209.4 C315.3,210.5 316.7,211.6 318,212.7 C319.3,213.8 320.7,214.8 322,215.8 C323.3,216.8 324.7,217.7 326,218.7 C327.3,219.6 329.3,221.1 330,221.6" fill="none" stroke="#1d4f8f" stroke-width="0.45" stroke-dasharray="2.4,1.2" opacity="0.6"/>
<path d="M110,94.7 C110.7,94.9 112.7,95.6 114,95.9 C115.3,96.2 116.7,96.6 118,96.7 C119.3,96.8 120.7,96.7 122,96.7 C123.3,96.6 124.7,96.4 126,96.5 C127.3,96.5 128.7,96.6 130,96.8 C131.3,96.9 132.7,96.9 134,97.3 C135.3,97.6 136.7,98.2 138,98.8 C139.3,99.4 140.7,100.2 142,101 C143.3,101.8 144.7,102.9 146,103.7 C147.3,104.6 148.7,105.3 150,106 C151.3,106.6 152.7,107.4 154,107.9 C155.3,108.4 156.7,108.4 158,108.9 C159.3,109.3 160.7,109.5 162,110.5 C163.3,111.5 164.7,113.9 166,114.8 C167.3,115.7 168.7,115.5 170,115.9 C171.3,116.4 172.7,116.9 174,117.6 C175.3,118.3 176.7,118.9 178,120.2 C179.3,121.6 180.7,124.7 182,125.8 C183.3,127 184.7,127.1 186,127.3 C187.3,127.4 189.3,126.9 190,126.8" fill="none" stroke="#3a7a2a" stroke-width="0.45" stroke-dasharray="2.4,1.2" opacity="0.55"/><path d="M110,95.8 C110.7,96.2 112.7,97.4 114,97.9 C115.3,98.5 116.7,99.1 118,99.3 C119.3,99.6 120.7,99.4 122,99.3 C123.3,99.3 124.7,99.2 126,99.3 C127.3,99.3 128.7,99.5 130,99.7 C131.3,99.8 132.7,99.9 134,100.2 C135.3,100.6 136.7,101.2 138,101.9 C139.3,102.6 140.7,103.5 142,104.6 C143.3,105.6 144.7,107 146,108 C147.3,109 148.7,109.7 150,110.5 C151.3,111.2 152.7,112.1 154,112.5 C155.3,113 156.7,112.9 158,113.2 C159.3,113.5 160.7,113.8 162,114.5 C163.3,115.3 164.7,116.9 166,117.7 C167.3,118.5 168.7,118.7 170,119.4 C171.3,120 172.7,120.9 174,121.9 C175.3,122.8 176.7,123.5 178,125 C179.3,126.4 180.7,129.1 182,130.6 C183.3,132.1 184.7,133.3 186,133.9 C187.3,134.4 189.3,133.9 190,133.9" fill="none" stroke="#3a7a2a" stroke-width="0.45" stroke-dasharray="2.4,1.2" opacity="0.55"/>
<path d="M226,97 C227.5,98.5 230.8,102 235,106 C239.2,110 246.6,117 251.1,121.3 C255.6,125.6 258.7,129.3 261.8,132 C264.9,134.7 267.6,135.6 269.9,137.4 C272.1,139.2 273.6,140.6 275.3,143 C277,145.4 277.9,149.3 280,152 C282.1,154.7 285.2,157.3 287.8,159.2 C290.4,161.1 293.1,162 295.7,163.5 C298.3,165 300.9,166.8 303.5,168 C306.1,169.2 308.7,169.5 311.3,170.4 C313.9,171.3 316.5,172.5 319.1,173.5 C321.7,174.5 324.4,175.9 327,176.6 C329.6,177.3 332.2,177.6 334.8,177.9 C337.4,178.2 340.6,178.1 342.6,178.2 C344.6,178.3 346.3,178.3 347,178.3" fill="none" stroke="#19963A" stroke-width="1.15" />
<path d="M210,88.8 C210.6,88.7 212,88.2 213.4,88.3 C214.8,88.4 217,88.8 218.4,89.3 C219.8,89.8 220.7,90.7 222,91.5 C223.3,92.3 225.3,93.6 226,94" fill="none" stroke="#19963A" stroke-width="0.8" />
<path d="M224,92.5 C225,93.6 228.2,96.9 230,99 C231.8,101.1 232.6,102.8 235.1,105 C237.6,107.2 241.7,109.8 245,112 C248.3,114.2 251.9,116.6 255.1,118.5 C258.3,120.4 261.8,121.7 264,123.5 C266.2,125.3 266.7,127.8 268.6,129.4 C270.5,131.1 273.4,132.4 275.3,133.4 C277.2,134.4 278.7,134.6 280,135.5 C281.3,136.4 282.1,137.9 283.3,138.8 C284.5,139.7 285.4,139.8 287.3,141 C289.2,142.2 292.1,144.2 294.5,145.7 C296.9,147.2 299.4,148.9 301.8,150.1 C304.2,151.3 306.7,152.2 309.1,153 C311.5,153.8 314,154.5 316.4,155.2 C318.8,155.9 321.2,156.8 323.6,157.3 C326,157.9 327.3,158.1 330.9,158.5 C334.5,158.9 342,159.3 345,159.5 C348,159.7 348.1,159.6 348.7,159.6" fill="none" stroke="#4A2A12" stroke-width="1.2" />
<path d="M237.7,121 C237.9,121.2 237.2,119.9 239,122 C240.8,124.1 245,129.3 248.4,133.4 C251.8,137.5 255.8,142.7 259.2,146.8 C262.6,151 265.1,154.5 268.6,158.3 C272.1,162.1 276.8,166.8 280,169.6 C283.2,172.4 285.2,173.4 287.8,175.1 C290.4,176.8 293.1,178.2 295.7,179.8 C298.3,181.4 300.9,182.9 303.5,184.4 C306.1,185.9 308.7,187.5 311.3,189.1 C313.9,190.7 316.5,192 319.1,193.8 C321.7,195.6 324.4,198.1 327,200.1 C329.6,202.1 332.2,204.3 334.8,205.6 C337.4,206.9 341.1,207.5 342.6,207.9 C344.1,208.3 343.5,208 343.7,208" fill="none" stroke="#1b5cc0" stroke-width="1.2" />
<path d="M226.2,91.7 C226.9,92.3 229.2,94.2 230.7,95.1 C232.2,96 233.5,96.8 235.1,97.3 C236.7,97.8 238.3,97.7 240,98 C241.7,98.3 243.3,98.4 245,99 C246.7,99.6 248.3,100.9 250,101.8 C251.7,102.7 253.3,103.9 255,104.6 C256.7,105.3 258.1,105.1 260,105.8 C261.9,106.5 264.2,108 266.2,108.9 C268.2,109.8 269.7,110.6 272,111.3 C274.3,112 277.4,112.5 280,113 C282.6,113.5 284.9,113.9 287.3,114.5 C289.7,115.1 292.1,115.9 294.5,116.6 C296.9,117.3 299.4,118.2 301.8,118.8 C304.2,119.4 306.7,119.9 309.1,120.3 C311.5,120.7 314,121 316.4,121.3 C318.8,121.6 321.2,122 323.6,122.2 C326,122.4 328.2,122.4 330.9,122.2 C333.6,122 337.6,121.4 340,121 C342.4,120.6 343,120.9 345,120 C347,119.1 351.1,116.2 352.3,115.5" fill="none" stroke="#1FA8BE" stroke-width="1.15" />
<path d="M201.3,93.5 C201.9,92.9 203.6,91 205,90 C206.4,89 208.6,87.8 210,87.3 C211.4,86.8 212,86.7 213.4,86.8 C214.8,86.9 217,87.3 218.4,87.8 C219.8,88.2 220.4,88.8 221.7,89.5 C223,90.2 225.4,91.3 226.2,91.7" fill="none" stroke="#17963a" stroke-width="1.0" />
<path d="M200.6,97.5 C201.3,97 203.4,95.2 205,94.2 C206.6,93.2 208.7,92.2 210,91.8 C211.3,91.4 212,91.5 213,91.6 C214,91.7 215.1,91.9 216,92.2 C216.9,92.5 217.5,92.8 218.4,93.5 C219.3,94.2 220.4,95 221.7,96.6 C223,98.2 224.7,100.7 226.2,102.9 C227.7,105.1 229.2,107.4 230.7,109.6 C232.2,111.8 233.9,113.9 235.1,115.8 C236.3,117.7 236.4,118.6 237.7,121 C239,123.4 241.2,126.8 243,130 C244.8,133.2 245.7,135.5 248.4,140.1 C251.1,144.7 255.8,152.7 259.2,157.6 C262.6,162.5 265.1,165.4 268.6,169.7 C272.1,174 276.8,180.3 280,183.5 C283.2,186.7 285.2,187 287.8,189.1 C290.4,191.2 293.7,193.8 295.7,195.8 C297.7,197.8 297.6,198.3 300,201 C302.4,203.7 306.7,208.7 310,212 C313.3,215.3 317.3,218.8 320,221 C322.7,223.2 324,223.7 326,225.1 C328,226.5 330.8,228.7 332,229.6 C333.2,230.5 333,230.3 333.2,230.5" fill="none" stroke="#E3122E" stroke-width="1.0" />
<path d="M355.1,87.6 C355.8,87.4 358,86.3 359.4,86.2 C360.8,86.1 362.1,86.3 363.7,86.9 C365.3,87.5 367.1,88.1 368.8,89.8 C370.5,91.5 371.8,94.1 373.9,97.1 C376,100.1 378.8,104.4 381.2,108 C383.6,111.6 386.1,115.3 388.5,118.9 C390.9,122.5 393.5,127.3 395.7,129.8 C397.9,132.4 399.3,133.1 401.5,134.2 C403.7,135.3 407.8,136 409,136.4" fill="none" stroke="#E3122E" stroke-width="1.1" />
<path d="M149,70.2 C152.3,70.3 163.2,70.7 169,71 C174.8,71.3 181.5,71.8 184,72" fill="none" stroke="#a0a0a0" stroke-width="0.55" stroke-dasharray="2.2,1.3"/>
<path d="M147,86.3 C150.8,86.3 163.7,86.5 170,86.5 C176.3,86.5 180.6,86.4 185,86.2 C189.4,86 194.5,85.4 196.4,85.2" fill="none" stroke="#a0a0a0" stroke-width="0.55" stroke-dasharray="2.2,1.3"/>
<path d="M164,97 C166.3,97.1 173.2,97.4 178,97.6 C182.8,97.8 190.5,97.9 193,98" fill="none" stroke="#a0a0a0" stroke-width="0.55" stroke-dasharray="2.2,1.3"/>
<path d="M226.6,85.4 C228.8,85.6 235.5,86.2 240,86.6 C244.5,87 251.2,87.6 253.5,87.8" fill="none" stroke="#a0a0a0" stroke-width="0.55" stroke-dasharray="2.2,1.3"/>
<path d="M272.8,79.6 C275.7,79.7 284.8,79.9 290,80 C295.2,80.1 299.3,80 304,80.1 C308.7,80.1 313.4,80.2 318,80.3 C322.6,80.4 326.9,80.4 331.7,80.5 C336.5,80.6 344.4,80.8 347,80.8" fill="none" stroke="#a0a0a0" stroke-width="0.55" stroke-dasharray="2.2,1.3"/>
<path d="M279,96.8 C281.7,96.9 289.5,97.2 295,97.3 C300.5,97.4 309.2,97.5 312,97.6" fill="none" stroke="#a0a0a0" stroke-width="0.55" stroke-dasharray="2.2,1.3"/>
<path d="M323.7,99.7 C325.9,99.6 332.6,99.5 337,99.3 C341.4,99.1 347.8,98.9 350,98.8" fill="none" stroke="#a0a0a0" stroke-width="0.55" stroke-dasharray="2.2,1.3"/>
<path d="M274.3,106.2 C276.9,106.3 285.1,106.6 290,106.8 C294.9,107 301.7,107.3 304,107.4" fill="none" stroke="#a0a0a0" stroke-width="0.55" stroke-dasharray="2.2,1.3"/>
<path d="M320,112.2 C322.5,112.2 330,112.4 335,112.4 C340,112.4 347.5,112.2 350,112.2" fill="none" stroke="#a0a0a0" stroke-width="0.55" stroke-dasharray="2.2,1.3"/>
<path d="M331.8,89.4 L349.7,89.7" fill="none" stroke="#a0a0a0" stroke-width="0.55" stroke-dasharray="2.2,1.3"/>
<path d="M360.8,72.4 C362.7,72.4 368.1,72.3 372,72.2 C375.9,72.1 380.3,71.9 384.1,71.9 C387.9,71.9 391.2,72.2 395,72.4 C398.8,72.6 404.7,73 406.6,73.1" fill="none" stroke="#a0a0a0" stroke-width="0.55" stroke-dasharray="2.2,1.3"/>
<path d="M366.6,75.3 C368.5,75.3 374.1,75.3 378,75.3 C381.9,75.3 386.6,75.2 389.9,75.3 C393.2,75.4 395.2,75.7 398,75.9 C400.8,76.1 405.2,76.6 406.6,76.7" fill="none" stroke="#a0a0a0" stroke-width="0.55" stroke-dasharray="2.2,1.3"/>
<path d="M169,71 L184,72" fill="none" stroke="#888" stroke-width="0.7" />
<path d="M240,86.6 L253.5,87.8" fill="none" stroke="#888" stroke-width="0.7" />
<path d="M290,97.2 L303,97.4" fill="none" stroke="#888" stroke-width="0.7" />
<path d="M290,106.8 L303,107.3" fill="none" stroke="#888" stroke-width="0.7" />
<path d="M372,72.2 L384.1,71.9" fill="none" stroke="#888" stroke-width="0.7" />
<path d="M365.9,80.4 C368.9,81.4 377.3,83.8 384.1,86.2 C390.9,88.6 402.9,93.5 406.6,94.9" fill="none" stroke="#8e8e8e" stroke-width="0.6" />
<path d="M367.4,84.7 C369,85.7 373.1,88.7 376.8,90.5 C380.6,92.3 386.3,93.9 389.9,95.6 C393.5,97.3 395.8,99.1 398.6,100.7 C401.4,102.3 405.3,104.4 406.6,105.1" fill="none" stroke="#8e8e8e" stroke-width="0.6" />
<path d="M379.7,97.1 C380.9,98.9 384.6,104.7 387,108 C389.4,111.3 391,114 394.3,116.7 C397.6,119.4 404.6,122.8 406.6,124" fill="none" stroke="#8e8e8e" stroke-width="0.6" />
<line x1="57.8" y1="75.8" x2="54.7" y2="98.9" stroke="#151515" stroke-width="0.9" />
<line x1="65.4" y1="74.1" x2="66.7" y2="97.6" stroke="#151515" stroke-width="0.9" />
<line x1="70.2" y1="74.5" x2="71.6" y2="97.6" stroke="#151515" stroke-width="0.9" />
<line x1="76.1" y1="79.5" x2="74.8" y2="94.6" stroke="#151515" stroke-width="0.9" />
<line x1="86.6" y1="80.4" x2="91.3" y2="100.5" stroke="#151515" stroke-width="0.9" />
<line x1="107" y1="83.5" x2="112.3" y2="109.7" stroke="#151515" stroke-width="0.9" />
<line x1="120.8" y1="83.5" x2="126.8" y2="115.7" stroke="#151515" stroke-width="0.9" />
<line x1="127.5" y1="85.5" x2="130.6" y2="109.7" stroke="#151515" stroke-width="0.9" />
<line x1="145" y1="82.1" x2="150" y2="129" stroke="#151515" stroke-width="0.9" />
<line x1="162.4" y1="93" x2="167.4" y2="149.7" stroke="#151515" stroke-width="0.9" />
<line x1="178.5" y1="104.2" x2="184" y2="158" stroke="#151515" stroke-width="0.9" />
<line x1="279" y1="109.3" x2="275.9" y2="146.8" stroke="#151515" stroke-width="0.9" />
<line x1="292.5" y1="117" x2="275.7" y2="156" stroke="#151515" stroke-width="0.9" />
<line x1="295" y1="150.9" x2="286" y2="163.6" stroke="#151515" stroke-width="0.9" />
<line x1="306.9" y1="109.4" x2="310.8" y2="137.3" stroke="#151515" stroke-width="0.9" />
<line x1="294.3" y1="121.7" x2="281.5" y2="163.2" stroke="#151515" stroke-width="0.9" />
<line x1="302.5" y1="134.1" x2="309.5" y2="186.8" stroke="#151515" stroke-width="0.9" />
<line x1="301.8" y1="135.5" x2="286.5" y2="163.2" stroke="#151515" stroke-width="0.9" />
<line x1="305.8" y1="162.5" x2="314" y2="237.7" stroke="#151515" stroke-width="0.9" />
<line x1="328.5" y1="184.4" x2="331.7" y2="206.4" stroke="#151515" stroke-width="0.9" />
<path d="M233.1,90.4 L234.5,100 L238.6,135 L243.9,165 L246.4,180.4" fill="none" stroke="#151515" stroke-width="1.6"/>
<path d="M246.6,97.6 L245.4,122.6" fill="none" stroke="#151515" stroke-width="1.1"/>
<path d="M249.3,95.2 L250,130 L251.1,144.2" fill="none" stroke="#151515" stroke-width="1.1"/>
<path d="M268.5,99.9 L264.1,130 L257.1,181.7" fill="none" stroke="#151515" stroke-width="1.1"/>
<line x1="206.6" y1="65" x2="203.5" y2="82" stroke="#151515" stroke-width="1.8" stroke-dasharray="3.2,2.2"/>
<line x1="203.5" y1="82" x2="170.7" y2="256.5" stroke="#151515" stroke-width="1.8" />
<line x1="268.3" y1="70.2" x2="271.6" y2="98.8" stroke="#151515" stroke-width="1.6" stroke-dasharray="3.2,2.2"/>
<line x1="271.6" y1="98.8" x2="282.6" y2="230.5" stroke="#151515" stroke-width="1.5" />
<line x1="358.8" y1="62" x2="355.9" y2="80.4" stroke="#151515" stroke-width="1.8" stroke-dasharray="3.2,2.2"/>
<path d="M355.9,80.4 L355.9,80.4 L352.7,110 L349.5,150 L346.9,180 L343.5,210 L337.2,255" fill="none" stroke="#151515" stroke-width="1.8"/>
<line x1="331.3" y1="200" x2="337.2" y2="254" stroke="#151515" stroke-width="1.1" />
<line x1="335.5" y1="48.5" x2="335.5" y2="256" stroke="#333" stroke-width="0.8" />
<line x1="223" y1="33" x2="223" y2="106" stroke="#1f2aa0" stroke-width="1.8" />
<path d="M179.4,194.4 L176.5,212.5" fill="none" stroke="#151515" stroke-width="1.3" stroke-linecap="round"/><path d="M176.5,212.5 L174.4,204.1 L177.8,204.4 Z" fill="#151515" stroke="#151515" stroke-width="0.5" stroke-linejoin="round"/>
<path d="M243.4,143.4 L245.3,157.9" fill="none" stroke="#151515" stroke-width="1.3" stroke-linecap="round"/><path d="M245.3,157.9 L247.6,149.8 L244.4,151.4 Z" fill="#151515" stroke="#151515" stroke-width="0.5" stroke-linejoin="round"/>
<path d="M283.4,200.6 L284.3,212" fill="none" stroke="#151515" stroke-width="1.3" stroke-linecap="round"/><path d="M284.3,212 L286.6,204.4 L283.9,206.9 Z" fill="#151515" stroke="#151515" stroke-width="0.5" stroke-linejoin="round"/>
<path d="M339.3,214.8 L336.3,231.5" fill="none" stroke="#151515" stroke-width="1.1" stroke-linecap="round"/><path d="M336.3,231.5 L335,223.8 L337.7,224 Z" fill="#151515" stroke="#151515" stroke-width="0.5" stroke-linejoin="round"/>
<circle cx="169.9" cy="232.2" r="2.2" fill="none" stroke="#151515" stroke-width="1.2"/><circle cx="180.4" cy="232.2" r="2.2" fill="none" stroke="#151515" stroke-width="1.2"/><circle cx="180.4" cy="232.2" r="0.8" fill="#151515"/>
<circle cx="240.1" cy="174.4" r="2.2" fill="none" stroke="#151515" stroke-width="1.2"/><circle cx="250.4" cy="174.4" r="2.2" fill="none" stroke="#151515" stroke-width="1.2"/><circle cx="250.4" cy="174.4" r="0.8" fill="#151515"/>
<circle cx="276.8" cy="223.1" r="2.2" fill="none" stroke="#151515" stroke-width="1.2"/><circle cx="287.1" cy="223.1" r="2.2" fill="none" stroke="#151515" stroke-width="1.2"/><circle cx="287.1" cy="223.1" r="0.8" fill="#151515"/>
<circle cx="332.4" cy="253.3" r="2.2" fill="none" stroke="#151515" stroke-width="1.2"/><circle cx="342.4" cy="253.3" r="2.2" fill="none" stroke="#151515" stroke-width="1.2"/><circle cx="342.4" cy="253.3" r="0.8" fill="#151515"/>
<rect x="314.5" y="85.7" width="10.1" height="7" fill="#fff" stroke="#666" stroke-width="0.5"/><text x="319.6" y="91.2" font-family='"Liberation Sans", sans-serif' font-size="5.6" font-weight="bold" font-style="normal" fill="#111" text-anchor="middle" textLength="7.9" lengthAdjust="spacingAndGlyphs">NG</text>
<rect x="314.5" y="115.3" width="9.6" height="7.9" fill="#fff" stroke="#666" stroke-width="0.5"/><text x="319.3" y="121.2" font-family='"Liberation Sans", sans-serif' font-size="5.6" font-weight="bold" font-style="normal" fill="#111" text-anchor="middle" textLength="7.4" lengthAdjust="spacingAndGlyphs">GF</text>
<rect x="314.9" y="132.1" width="11.4" height="6.8" fill="#fff" stroke="#666" stroke-width="0.5"/><text x="320.6" y="137.5" font-family='"Liberation Sans", sans-serif' font-size="5.6" font-weight="bold" font-style="normal" fill="#111" text-anchor="middle" textLength="9.2" lengthAdjust="spacingAndGlyphs">SUF</text>
<rect x="314.9" y="151.7" width="11.4" height="7.1" fill="#fff" stroke="#666" stroke-width="0.5"/><text x="320.6" y="157.2" font-family='"Liberation Sans", sans-serif' font-size="5.6" font-weight="bold" font-style="normal" fill="#111" text-anchor="middle" textLength="9.2" lengthAdjust="spacingAndGlyphs">SNF</text>
<rect x="314.9" y="170.8" width="11.4" height="7.6" fill="#fff" stroke="#666" stroke-width="0.5"/><text x="320.6" y="176.6" font-family='"Liberation Sans", sans-serif' font-size="5.6" font-weight="bold" font-style="normal" fill="#111" text-anchor="middle" textLength="9.2" lengthAdjust="spacingAndGlyphs">HCF</text>
<rect x="316.1" y="190.7" width="8.6" height="7" fill="#fff" stroke="#666" stroke-width="0.5"/><text x="320.4" y="196.2" font-family='"Liberation Sans", sans-serif' font-size="5.6" font-weight="bold" font-style="normal" fill="#111" text-anchor="middle" textLength="6.4" lengthAdjust="spacingAndGlyphs">LP</text>
<rect x="317.8" y="216.9" width="9" height="6.9" fill="#fff" stroke="#666" stroke-width="0.5"/><text x="322.3" y="222.3" font-family='"Liberation Sans", sans-serif' font-size="5.6" font-weight="bold" font-style="normal" fill="#111" text-anchor="middle" textLength="6.8" lengthAdjust="spacingAndGlyphs">BM</text>
<text x="213.6" y="161" font-family='"Liberation Sans", sans-serif' font-size="8.0" font-weight="bold" font-style="normal" fill="#1c0c0e" text-anchor="start" textLength="22.3" lengthAdjust="spacingAndGlyphs" stroke="#1c0c0e" stroke-width="0.25">Fault 2</text>
<text x="182.9" y="215.6" font-family='"Liberation Sans", sans-serif' font-size="8.0" font-weight="bold" font-style="normal" fill="#1c0c0e" text-anchor="start" textLength="24.2" lengthAdjust="spacingAndGlyphs" stroke="#1c0c0e" stroke-width="0.25">Fault 3</text>
<text x="262.1" y="241" font-family='"Liberation Sans", sans-serif' font-size="8.4" font-weight="bold" font-style="normal" fill="#1c0c0e" text-anchor="start" textLength="42.4" lengthAdjust="spacingAndGlyphs" stroke="#1c0c0e" stroke-width="0.25">NW-striking</text>
<text x="262.1" y="249.8" font-family='"Liberation Sans", sans-serif' font-size="8.4" font-weight="bold" font-style="normal" fill="#1c0c0e" text-anchor="start" textLength="47" lengthAdjust="spacingAndGlyphs" stroke="#1c0c0e" stroke-width="0.25">transfer fault</text>
<text x="344.7" y="242.1" font-family='"Liberation Sans", sans-serif' font-size="8.3" font-weight="bold" font-style="normal" fill="#1c0c0e" text-anchor="start" textLength="40.6" lengthAdjust="spacingAndGlyphs" stroke="#1c0c0e" stroke-width="0.25">Minto Fault</text>
<line x1="63" y1="239.7" x2="131.3" y2="239.7" stroke="#151515" stroke-width="2.3" />
<line x1="63.6" y1="234.8" x2="63.6" y2="240.5" stroke="#151515" stroke-width="1.1" />
<line x1="98.3" y1="234.8" x2="98.3" y2="240.5" stroke="#151515" stroke-width="1.1" />
<line x1="130.8" y1="234.8" x2="130.8" y2="240.5" stroke="#151515" stroke-width="1.1" />
<text x="63.6" y="234.1" font-family='"Liberation Sans", sans-serif' font-size="7.4" font-weight="normal" font-style="normal" fill="#111" text-anchor="middle">0</text>
<text x="98.3" y="234.1" font-family='"Liberation Sans", sans-serif' font-size="7.4" font-weight="normal" font-style="normal" fill="#111" text-anchor="middle">5</text>
<text x="130.8" y="234.1" font-family='"Liberation Sans", sans-serif' font-size="7.4" font-weight="normal" font-style="normal" fill="#111" text-anchor="middle" textLength="8.4" lengthAdjust="spacingAndGlyphs">10</text>
<text x="98.3" y="248.6" font-family='"Liberation Sans", sans-serif' font-size="7.8" font-weight="bold" font-style="normal" fill="#111" text-anchor="middle" textLength="12" lengthAdjust="spacingAndGlyphs">KM</text>
<rect x="48.5" y="48.5" width="360.5" height="208" fill="none" stroke="#111" stroke-width="1.3"/>
<line x1="44.3" y1="49.9" x2="48.5" y2="49.9" stroke="#111" stroke-width="1" />
<text x="41.9" y="53.1" font-family='"Liberation Sans", sans-serif' font-size="7.8" font-weight="normal" font-style="normal" fill="#1a1a1a" text-anchor="end" textLength="10" lengthAdjust="spacingAndGlyphs">0.0</text>
<line x1="44.3" y1="101.6" x2="48.5" y2="101.6" stroke="#111" stroke-width="1" />
<text x="41.9" y="104.8" font-family='"Liberation Sans", sans-serif' font-size="7.8" font-weight="normal" font-style="normal" fill="#1a1a1a" text-anchor="end" textLength="10" lengthAdjust="spacingAndGlyphs">1.0</text>
<line x1="44.3" y1="153.3" x2="48.5" y2="153.3" stroke="#111" stroke-width="1" />
<text x="41.9" y="156.5" font-family='"Liberation Sans", sans-serif' font-size="7.8" font-weight="normal" font-style="normal" fill="#1a1a1a" text-anchor="end" textLength="10" lengthAdjust="spacingAndGlyphs">2.0</text>
<line x1="44.3" y1="204.9" x2="48.5" y2="204.9" stroke="#111" stroke-width="1" />
<text x="41.9" y="208.1" font-family='"Liberation Sans", sans-serif' font-size="7.8" font-weight="normal" font-style="normal" fill="#1a1a1a" text-anchor="end" textLength="10" lengthAdjust="spacingAndGlyphs">3.0</text>
<line x1="44.3" y1="256.6" x2="48.5" y2="256.6" stroke="#111" stroke-width="1" />
<text x="41.9" y="259.8" font-family='"Liberation Sans", sans-serif' font-size="7.8" font-weight="normal" font-style="normal" fill="#1a1a1a" text-anchor="end" textLength="10" lengthAdjust="spacingAndGlyphs">4.0</text>
<line x1="409" y1="49.4" x2="412.3" y2="49.4" stroke="#111" stroke-width="1" />
<line x1="409" y1="153.9" x2="412.5" y2="153.9" stroke="#111" stroke-width="1" />
<line x1="409" y1="256.5" x2="412.5" y2="256.5" stroke="#111" stroke-width="1" />
<text x="416.3" y="52.7" font-family='"Liberation Sans", sans-serif' font-size="7.8" font-weight="normal" font-style="normal" fill="#1a1a1a" text-anchor="start" textLength="12.7" lengthAdjust="spacingAndGlyphs">0 m</text>
<text x="417.2" y="156.7" font-family='"Liberation Sans", sans-serif' font-size="7.8" font-weight="normal" font-style="normal" fill="#1a1a1a" text-anchor="start" textLength="25.9" lengthAdjust="spacingAndGlyphs">3048 m</text>
<text x="417.2" y="259.5" font-family='"Liberation Sans", sans-serif' font-size="7.8" font-weight="normal" font-style="normal" fill="#1a1a1a" text-anchor="start" textLength="25.9" lengthAdjust="spacingAndGlyphs">5486 m</text>
<text x="10.7" y="42.8" font-family='"Liberation Sans", sans-serif' font-size="7.8" font-weight="normal" font-style="normal" fill="#1a1a1a" text-anchor="start" textLength="49" lengthAdjust="spacingAndGlyphs">TWT (Sec) NW</text>
<text x="400.2" y="43.5" font-family='"Liberation Sans", sans-serif' font-size="7.6" font-weight="normal" font-style="normal" fill="#1a1a1a" text-anchor="start" textLength="8" lengthAdjust="spacingAndGlyphs">SE</text>
<text x="324.8" y="42.8" font-family='"Liberation Sans", sans-serif' font-size="7.8" font-weight="bold" font-style="normal" fill="#111" text-anchor="start" textLength="19.4" lengthAdjust="spacingAndGlyphs">TA 05</text>
<text x="204.9" y="29" font-family='"Liberation Sans", sans-serif' font-size="7.9" font-weight="bold" font-style="normal" fill="#111" text-anchor="start" textLength="38.1" lengthAdjust="spacingAndGlyphs">Nenana 1</text>
<text x="181.3" y="12.1" font-family='"Liberation Sans", sans-serif' font-size="11" font-weight="bold" font-style="italic" fill="#231f20" text-anchor="start" textLength="96" lengthAdjust="spacingAndGlyphs">Seismic profile TA-02</text>
<line x1="73.3" y1="274.5" x2="194.7" y2="274.5" stroke="#111" stroke-width="1.8" /><path d="M67.3,274.5 L77.3,270.3 L74.3,274.5 L77.3,278.7 Z" fill="#111"/><path d="M200.7,274.5 L190.7,270.3 L193.7,274.5 L190.7,278.7 Z" fill="#111"/>
<line x1="225.4" y1="274.5" x2="351.2" y2="274.5" stroke="#111" stroke-width="1.8" /><path d="M219.4,274.5 L229.4,270.3 L226.4,274.5 L229.4,278.7 Z" fill="#111"/><path d="M357.2,274.5 L347.2,270.3 L350.2,274.5 L347.2,278.7 Z" fill="#111"/>
<text x="109.6" y="268.4" font-family='"Liberation Sans", sans-serif' font-size="9.2" font-weight="bold" font-style="normal" fill="#231f20" text-anchor="start" textLength="50.6" lengthAdjust="spacingAndGlyphs" stroke="#231f20" stroke-width="0.25">Sub-graben</text>
<text x="243" y="268.3" font-family='"Liberation Sans", sans-serif' font-size="9.2" font-weight="bold" font-style="normal" fill="#231f20" text-anchor="start" textLength="89.7" lengthAdjust="spacingAndGlyphs" stroke="#231f20" stroke-width="0.25">Main Nenana Graben</text>
<circle cx="51.2" cy="289" r="2.3" fill="none" stroke="#111" stroke-width="1.1"/>
<circle cx="51.2" cy="297.5" r="2.3" fill="none" stroke="#111" stroke-width="1.1"/><circle cx="51.2" cy="297.5" r="0.9" fill="#111"/>
<text x="60.6" y="291.2" font-family='"Liberation Sans", sans-serif' font-size="6.2" font-weight="normal" font-style="normal" fill="#1a1a1a" text-anchor="start" textLength="113.2" lengthAdjust="spacingAndGlyphs">Fault block moving towards the reader</text>
<text x="60.6" y="299.7" font-family='"Liberation Sans", sans-serif' font-size="6.2" font-weight="normal" font-style="normal" fill="#1a1a1a" text-anchor="start" textLength="119.4" lengthAdjust="spacingAndGlyphs">Fault block moving away from the reader</text>
<text x="213.6" y="315.6" font-family='"Liberation Serif", serif' font-size="12" font-weight="bold" font-style="normal" fill="#231f20" text-anchor="start" textLength="17.4" lengthAdjust="spacingAndGlyphs">(A)</text>
<text x="193.9" y="325.2" font-family='"Liberation Sans", sans-serif' font-size="7.2" font-weight="bold" font-style="italic" fill="#231f20" text-anchor="start" textLength="66.2" lengthAdjust="spacingAndGlyphs">Seismic profile TA-05</text>
<rect x="38.5" y="353.3" width="377.2" height="151.4" fill="#DD4F65"/>
<path d="M38.5,353.3 L415.7,353.3 L415.7,396.2 L415.7,396.2 C412.6,396.4 403.6,397.1 397.3,397.5 C391,397.9 382.8,398.2 378,398.5 C373.2,398.8 371.8,399.1 368.5,399.4 C365.2,399.7 361.2,400.1 358,400.5 C354.8,400.9 352.2,401.4 349.2,401.5 C346.2,401.6 343,400.9 340,400.8 C337,400.7 333.9,400.9 331,401 C328.1,401.1 325.5,401.5 322.6,401.7 C319.7,401.9 316.7,402.3 313.7,402.3 C310.7,402.3 307.7,402 304.7,401.7 C301.7,401.4 298.5,400.9 295.8,400.5 C293.1,400.1 291.8,400.5 288.7,399.2 C285.6,397.9 280.2,394.4 277,392.5 C273.8,390.6 272.8,389.5 269.7,387.9 C266.6,386.3 262.3,384.6 258.6,382.9 C254.9,381.2 251.1,379.6 247.4,377.9 C243.7,376.2 239.9,374.1 236.2,372.8 C232.5,371.5 228.3,370.6 225,370 C221.7,369.4 219.1,368.8 216.3,369 C213.5,369.2 210.7,370.5 208,371 C205.3,371.5 203.5,371.9 200,372.2 C196.5,372.5 190.3,372.7 187,372.8 C183.7,372.9 182.5,372.8 180.3,372.8 C178.1,372.9 175.8,372.9 173.6,373.1 C171.3,373.3 169.8,373.8 166.8,374.1 C163.8,374.4 157.7,374.7 155.8,374.8 L156.8,365.4 C156.3,365.2 155.4,364.8 153.4,364.1 C151.4,363.4 147.5,361.9 144.8,361 C142.1,360.1 139.6,359.4 137,359 C134.4,358.6 131.7,358.2 129.1,358.6 C126.5,359.1 123.9,360.5 121.3,361.7 C118.7,362.9 116.1,364.2 113.5,365.7 C110.9,367.1 108.3,368.8 105.7,370.4 C103.1,371.9 100.4,373.7 97.8,375 C95.2,376.3 93,377 90,378 C87,379 82.5,380 80,380.8 C77.5,381.6 76.7,382.4 75,383 C73.3,383.6 71.7,384 70,384.6 C68.3,385.2 66.7,385.9 65,386.5 C63.3,387.1 62.5,387.8 60,388 C57.5,388.2 53.6,387.8 50,387.6 C46.4,387.5 40.4,387.2 38.5,387.1 Z" fill="#fff"/>
<path d="M38.5,387.1 C40.4,387.2 46.4,387.5 50,387.6 C53.6,387.8 57.5,388.2 60,388 C62.5,387.8 63.3,387.1 65,386.5 C66.7,385.9 68.3,385.2 70,384.6 C71.7,384 73.3,383.6 75,383 C76.7,382.4 77.5,381.6 80,380.8 C82.5,380 87,379 90,378 C93,377 95.2,376.3 97.8,375 C100.4,373.7 103.1,371.9 105.7,370.4 C108.3,368.8 110.9,367.1 113.5,365.7 C116.1,364.2 118.7,362.9 121.3,361.7 C123.9,360.5 126.5,359.1 129.1,358.6 C131.7,358.2 134.4,358.6 137,359 C139.6,359.4 142.1,360.1 144.8,361 C147.5,361.9 151.4,363.4 153.4,364.1 C155.4,364.8 156.3,365.2 156.8,365.4  L153.9,393.4 C153.7,393.1 154.1,392.2 152.6,391.5 C151.1,390.8 147.4,389.8 144.8,389.1 C142.2,388.5 139.6,387.9 137,387.6 C134.4,387.4 131.7,387.4 129.1,387.6 C126.5,387.9 123.9,388.3 121.3,389.1 C118.7,389.9 116.1,391 113.5,392.3 C110.9,393.6 108,395.8 105.7,397 C103.5,398.2 102.6,398.9 100,399.6 C97.4,400.4 93.3,401 90,401.5 C86.7,402 82.5,402.1 80,402.4 C77.5,402.7 76.7,402.9 75,403.2 C73.3,403.5 71.7,403.7 70,404 C68.3,404.3 66.7,404.8 65,404.9 C63.3,405 61.7,404.8 60,404.6 C58.3,404.5 56.7,404.2 55,404 C53.3,403.8 52.8,403.4 50,403.3 C47.2,403.2 40.4,403.4 38.5,403.4 Z" fill="#98DB5C"/>
<path d="M38.5,387.1 C40.4,387.2 46.4,387.5 50,387.6 C53.6,387.8 57.5,388.2 60,388 C62.5,387.8 63.3,387.1 65,386.5 C66.7,385.9 68.3,385.2 70,384.6 C71.7,384 73.3,383.6 75,383 C76.7,382.4 77.5,381.6 80,380.8 C82.5,380 87,379 90,378 C93,377 95.2,376.3 97.8,375 C100.4,373.7 103.1,371.9 105.7,370.4 C108.3,368.8 110.9,367.1 113.5,365.7 C116.1,364.2 118.7,362.9 121.3,361.7 C123.9,360.5 126.5,359.1 129.1,358.6 C131.7,358.2 134.4,358.6 137,359 C139.6,359.4 142.1,360.1 144.8,361 C147.5,361.9 151.4,363.4 153.4,364.1 C155.4,364.8 156.3,365.2 156.8,365.4  L155.2,380.5 C154.9,380.2 154.8,379.5 153.4,378.8 C152,378.1 148.9,377 146.7,376.2 C144.5,375.4 141.6,374.6 140,374.1 C138.4,373.7 138.8,373.6 137,373.5 C135.2,373.4 131.7,372.9 129.1,373.5 C126.5,374.1 123.9,376.1 121.3,377.4 C118.7,378.7 115.7,380.2 113.5,381.3 C111.3,382.4 109.3,382.9 108,383.7 C106.7,384.5 107,385.4 105.7,386.2 C104.4,387 101.8,387.7 100,388.4 C98.2,389.1 96.7,390 95,390.6 C93.3,391.2 91.7,391.8 90,392.3 C88.3,392.8 86.7,392.9 85,393.4 C83.3,393.9 81.7,394.6 80,395.2 C78.3,395.8 76.7,396.4 75,396.9 C73.3,397.4 71.7,397.9 70,398.3 C68.3,398.7 66.7,399 65,399.3 C63.3,399.6 62.5,400.1 60,400.3 C57.5,400.5 53.6,400.5 50,400.4 C46.4,400.3 40.4,400 38.5,399.9 Z" fill="#E0EF3E"/>
<path d="M155.8,374.8 C157.7,374.7 163.8,374.4 166.8,374.1 C169.8,373.8 171.3,373.3 173.6,373.1 C175.8,372.9 178.1,372.9 180.3,372.8 C182.5,372.8 183.7,372.9 187,372.8 C190.3,372.7 196.5,372.5 200,372.2 C203.5,371.9 205.3,371.5 208,371 C210.7,370.5 213.5,369.2 216.3,369 C219.1,368.8 221.7,369.4 225,370 C228.3,370.6 232.5,371.5 236.2,372.8 C239.9,374.1 243.7,376.2 247.4,377.9 C251.1,379.6 254.9,381.2 258.6,382.9 C262.3,384.6 266.6,386.3 269.7,387.9 C272.8,389.5 273.8,390.6 277,392.5 C280.2,394.4 285.6,397.9 288.7,399.2 C291.8,400.5 293.1,400.1 295.8,400.5 C298.5,400.9 301.7,401.4 304.7,401.7 C307.7,402 310.7,402.3 313.7,402.3 C316.7,402.3 319.7,401.9 322.6,401.7 C325.5,401.5 328.1,401.1 331,401 C333.9,400.9 337,400.7 340,400.8 C343,400.9 346.2,401.6 349.2,401.5 C352.2,401.4 354.8,400.9 358,400.5 C361.2,400.1 365.2,399.7 368.5,399.4 C371.8,399.1 373.2,398.8 378,398.5 C382.8,398.2 391,397.9 397.3,397.5 C403.6,397.1 412.6,396.4 415.7,396.2  L415.7,453.1 C414.4,453 410.5,452.8 407.6,452.2 C404.8,451.6 401.6,449.9 398.6,449.5 C395.6,449.1 392.7,449.4 389.7,449.5 C386.7,449.6 383.7,449.6 380.7,450.4 C377.7,451.1 374.8,452.6 371.8,454 C368.8,455.4 365.8,456.9 362.8,458.5 C359.8,460.1 356.9,461.9 353.9,463.8 C350.9,465.7 347.2,468.4 344.9,470.1 C342.6,471.8 341.9,472.9 340,474 C338.1,475.1 335.9,475.8 333.7,476.9 C331.5,477.9 329.2,478.9 327,480.3 C324.8,481.7 322.5,483.7 320.3,485 C318.1,486.3 315.9,487.5 313.6,488.3 C311.4,489.1 309.1,489.7 306.8,489.9 C304.6,490.1 302.3,490.1 300.1,489.7 C297.9,489.3 295.6,488.5 293.4,487.7 C291.2,486.9 288.9,486.4 286.7,485 C284.5,483.6 281.6,480.4 280,479 C278.4,477.6 278.7,477.3 277.3,476.3 C275.9,475.3 273.6,474.1 271.8,473 C270,471.9 268.2,471 266.4,469.7 C264.6,468.4 262.7,466.8 260.9,465.3 C259.1,463.9 257.3,462.7 255.5,461 C253.7,459.3 251.4,456.5 250,455 C248.6,453.5 248.7,453.1 247.3,452 C245.9,450.9 243.6,449.5 241.8,448.6 C240,447.7 238.2,447.7 236.4,446.4 C234.6,445.1 232.7,442.6 230.9,441 C229.1,439.4 227.3,437.6 225.5,436.5 C223.7,435.4 222,435.5 220,434.5 C218,433.5 215.9,432 213.7,430.6 C211.5,429.2 209.2,427.4 207,425.9 C204.8,424.4 202.5,422.8 200.3,421.8 C198.1,420.8 195.8,420.8 193.6,419.8 C191.3,418.8 189.1,416.9 186.8,415.8 C184.6,414.7 182.3,414 180.1,413.1 C177.9,412.2 175.6,411.5 173.4,410.4 C171.2,409.3 168.8,407.4 166.7,406.4 C164.6,405.4 162.5,404.9 161.1,404.4 C159.7,403.9 159.8,403.8 158.4,403.5 C157,403.2 153.8,402.9 152.9,402.8 Z" fill="#98DB5C"/>
<path d="M155.8,374.8 C157.7,374.7 163.8,374.4 166.8,374.1 C169.8,373.8 171.3,373.3 173.6,373.1 C175.8,372.9 178.1,372.9 180.3,372.8 C182.5,372.8 183.7,372.9 187,372.8 C190.3,372.7 196.5,372.5 200,372.2 C203.5,371.9 205.3,371.5 208,371 C210.7,370.5 213.5,369.2 216.3,369 C219.1,368.8 221.7,369.4 225,370 C228.3,370.6 232.5,371.5 236.2,372.8 C239.9,374.1 243.7,376.2 247.4,377.9 C251.1,379.6 254.9,381.2 258.6,382.9 C262.3,384.6 266.6,386.3 269.7,387.9 C272.8,389.5 273.8,390.6 277,392.5 C280.2,394.4 285.6,397.9 288.7,399.2 C291.8,400.5 293.1,400.1 295.8,400.5 C298.5,400.9 301.7,401.4 304.7,401.7 C307.7,402 310.7,402.3 313.7,402.3 C316.7,402.3 319.7,401.9 322.6,401.7 C325.5,401.5 328.1,401.1 331,401 C333.9,400.9 337,400.7 340,400.8 C343,400.9 346.2,401.6 349.2,401.5 C352.2,401.4 354.8,400.9 358,400.5 C361.2,400.1 365.2,399.7 368.5,399.4 C371.8,399.1 373.2,398.8 378,398.5 C382.8,398.2 391,397.9 397.3,397.5 C403.6,397.1 412.6,396.4 415.7,396.2  L415.7,409.6 C412.6,410.2 403.6,411.7 397.3,412.9 C391,414.1 382.6,415.5 378,416.7 C373.4,417.9 372.5,419.2 370,420 C367.5,420.8 366.4,420.7 362.8,421.5 C359.2,422.3 352.6,424.1 348.3,425 C344,425.9 340.8,426.3 337.1,427 C333.4,427.7 329.6,428.3 325.9,429 C322.2,429.7 318.4,430.6 314.7,431.3 C311,432.1 306.9,433.6 303.6,433.5 C300.3,433.4 297.5,431.3 295,430.5 C292.5,429.7 290.9,429.8 288.7,428.7 C286.5,427.6 284.2,425.8 282,424 C279.8,422.2 277.4,419.8 275.3,418 C273.2,416.2 271.6,414.5 269.7,413.1 C267.8,411.7 266,410.9 264.1,409.7 C262.2,408.5 260.5,407.2 258.6,405.8 C256.8,404.4 254.9,402.6 253,401.4 C251.1,400.2 249.3,399.4 247.4,398.6 C245.5,397.9 243.7,397.6 241.8,396.9 C239.9,396.1 238.1,395.1 236.2,394.1 C234.3,393.1 232.5,391.9 230.6,390.7 C228.7,389.5 227.4,387.8 225,386.8 C222.6,385.8 220.5,385 216.3,384.7 C212.1,384.4 204.9,384.8 200,384.9 C195.1,385 190.3,385.2 187,385.6 C183.7,386 183.7,386.8 180.3,387.2 C176.9,387.6 171.1,387.8 166.8,388 C162.5,388.2 156.5,388.2 154.4,388.2 Z" fill="#E0EF3E"/>
<path d="M161.1,404.4 C162,404.5 164.6,405.1 166.7,405.1 C168.8,405.1 171.2,404.3 173.4,404.4 C175.6,404.5 177.9,405 180.1,405.7 C182.3,406.4 184.6,407.6 186.8,408.4 C189.1,409.2 191.3,409.6 193.6,410.4 C195.8,411.2 198.1,412.1 200.3,413.1 C202.5,414.1 204.8,415.6 207,416.5 C209.2,417.4 211.5,417.8 213.7,418.5 C215.9,419.2 218,420.1 220,420.8 C222,421.6 223.7,422.3 225.5,423 C227.3,423.7 229.1,424.6 230.9,425.2 C232.7,425.8 234.6,426.3 236.4,426.8 C238.2,427.3 240,427.7 241.8,428.4 C243.6,429.1 245.9,430 247.3,431 C248.7,432 248.6,433.3 250,434.5 C251.4,435.7 253.7,436.8 255.5,438.1 C257.3,439.4 259.1,440.8 260.9,442.4 C262.7,444 264.6,446.1 266.4,447.9 C268.2,449.7 270,451.8 271.8,453.4 C273.6,455 275.9,456.6 277.3,457.7 C278.7,458.8 278.4,458.7 280,460 C281.6,461.3 284.5,464 286.7,465.5 C288.9,467 291.2,468 293.4,468.9 C295.6,469.8 297.9,470.2 300.1,470.6 C302.3,471 304.6,471.1 306.8,471.1 C309.1,471.1 311.4,471.1 313.6,470.6 C315.9,470.1 318.1,469.2 320.3,468.2 C322.5,467.2 324.8,465.9 327,464.8 C329.2,463.7 331.5,462.6 333.7,461.5 C335.9,460.4 338.1,459.8 340,458.5 C341.9,457.2 342.6,455.9 344.9,454 C347.2,452.1 350.9,448.9 353.9,446.8 C356.9,444.7 359.8,442.7 362.8,441.5 C365.8,440.3 368.8,440.1 371.8,439.7 C374.8,439.2 377.7,439.1 380.7,438.8 C383.7,438.5 386.7,438.5 389.7,437.9 C392.7,437.3 395.6,435.8 398.6,435.2 C401.6,434.6 404.8,434.3 407.6,434.3 C410.5,434.3 414.4,434.9 415.7,435 L415.7,453.1 L415.7,453.1 C414.4,453 410.5,452.8 407.6,452.2 C404.8,451.6 401.6,449.9 398.6,449.5 C395.6,449.1 392.7,449.4 389.7,449.5 C386.7,449.6 383.7,449.6 380.7,450.4 C377.7,451.1 374.8,452.6 371.8,454 C368.8,455.4 365.8,456.9 362.8,458.5 C359.8,460.1 356.9,461.9 353.9,463.8 C350.9,465.7 347.2,468.4 344.9,470.1 C342.6,471.8 341.9,472.9 340,474 C338.1,475.1 335.9,475.8 333.7,476.9 C331.5,477.9 329.2,478.9 327,480.3 C324.8,481.7 322.5,483.7 320.3,485 C318.1,486.3 315.9,487.5 313.6,488.3 C311.4,489.1 309.1,489.7 306.8,489.9 C304.6,490.1 302.3,490.1 300.1,489.7 C297.9,489.3 295.6,488.5 293.4,487.7 C291.2,486.9 288.9,486.4 286.7,485 C284.5,483.6 281.6,480.4 280,479 C278.4,477.6 278.7,477.3 277.3,476.3 C275.9,475.3 273.6,474.1 271.8,473 C270,471.9 268.2,471 266.4,469.7 C264.6,468.4 262.7,466.8 260.9,465.3 C259.1,463.9 257.3,462.7 255.5,461 C253.7,459.3 251.4,456.5 250,455 C248.6,453.5 248.7,453.1 247.3,452 C245.9,450.9 243.6,449.5 241.8,448.6 C240,447.7 238.2,447.7 236.4,446.4 C234.6,445.1 232.7,442.6 230.9,441 C229.1,439.4 227.3,437.6 225.5,436.5 C223.7,435.4 222,435.5 220,434.5 C218,433.5 215.9,432 213.7,430.6 C211.5,429.2 209.2,427.4 207,425.9 C204.8,424.4 202.5,422.8 200.3,421.8 C198.1,420.8 195.8,420.8 193.6,419.8 C191.3,418.8 189.1,416.9 186.8,415.8 C184.6,414.7 182.3,414 180.1,413.1 C177.9,412.2 175.6,411.5 173.4,410.4 C171.2,409.3 168.8,407.4 166.7,406.4 C164.6,405.4 162,404.7 161.1,404.4 Z" fill="#5B98D8"/>
<path d="M160,377.2 C160.7,377.2 162.7,377.1 164,377 C165.3,376.9 166.7,376.9 168,376.7 C169.3,376.6 170.7,376.3 172,376.2 C173.3,376.1 174.7,376 176,375.9 C177.3,375.8 178.7,375.8 180,375.7 C181.3,375.6 182.7,375.6 184,375.5 C185.3,375.4 186.7,375.4 188,375.3 C189.3,375.2 190.7,375.2 192,375.1 C193.3,375.1 194.7,375 196,374.9 C197.3,374.9 198.7,374.9 200,374.7 C201.3,374.6 202.7,374.4 204,374.3 C205.3,374.1 206.7,374 208,373.8 C209.3,373.5 210.7,373.2 212,373 C213.3,372.7 214.7,372.3 216,372.2 C217.3,372.1 218.7,372.5 220,372.7 C221.3,372.8 222.7,372.9 224,373.2 C225.3,373.5 226.7,374 228,374.4 C229.3,374.8 230.7,375.3 232,375.7 C233.3,376.1 234.7,376.5 236,377 C237.3,377.5 238.7,378.2 240,378.8 C241.3,379.4 242.7,380 244,380.6 C245.3,381.2 246.7,381.7 248,382.3 C249.3,382.9 250.7,383.5 252,384.1 C253.3,384.8 254.7,385.5 256,386.1 C257.3,386.8 258.7,387.5 260,388.2 C261.3,388.9 262.7,389.5 264,390.2 C265.3,390.8 266.7,391.4 268,392.1 C269.3,392.8 270.7,393.7 272,394.5 C273.3,395.4 274.7,396.3 276,397.2 C277.3,398.1 278.7,399 280,399.8 C281.3,400.7 282.7,401.5 284,402.3 C285.3,403.1 286.7,404.1 288,404.7 C289.3,405.3 290.7,405.5 292,405.8 C293.3,406.1 294.7,406.3 296,406.6 C297.3,406.8 298.7,407.1 300,407.3 C301.3,407.5 302.7,407.8 304,408 C305.3,408.1 306.7,408 308,408.1 C309.3,408.1 310.7,408.1 312,408.1 C313.3,408.1 314.7,408 316,407.9 C317.3,407.8 318.7,407.7 320,407.5 C321.3,407.4 322.7,407.3 324,407.1 C325.3,407 326.7,406.9 328,406.7 C329.3,406.6 330.7,406.5 332,406.4 C333.3,406.3 334.7,406.2 336,406.2 C337.3,406.1 338.7,406 340,405.9 C341.3,405.9 342.7,406 344,406 C345.3,406.1 346.7,406.2 348,406.1 C349.3,406.1 350.7,405.9 352,405.8 C353.3,405.6 354.7,405.4 356,405.2 C357.3,405 358.7,404.8 360,404.7 C361.3,404.5 362.7,404.3 364,404.1 C365.3,404 366.7,403.8 368,403.6 C369.3,403.5 370.7,403.3 372,403.1 C373.3,402.9 374.7,402.6 376,402.5 C377.3,402.3 378.7,402.1 380,402 C381.3,401.8 382.7,401.8 384,401.7 C385.3,401.5 386.7,401.4 388,401.3 C389.3,401.2 390.7,401.1 392,401 C393.3,400.9 394.7,400.8 396,400.7 C397.3,400.6 398.7,400.5 400,400.3 C401.3,400.2 402.7,400.1 404,400 C405.3,399.8 406.7,399.7 408,399.6 C409.3,399.5 411.3,399.3 412,399.2" fill="none" stroke="#7a7a10" stroke-width="0.45" stroke-dasharray="2.4,1.2" opacity="0.55"/><path d="M160,379.3 C160.7,379.3 162.7,379.2 164,379.1 C165.3,379 166.7,378.9 168,378.8 C169.3,378.7 170.7,378.5 172,378.4 C173.3,378.2 174.7,378.1 176,378.1 C177.3,378 178.7,377.9 180,377.9 C181.3,377.8 182.7,377.6 184,377.5 C185.3,377.4 186.7,377.3 188,377.2 C189.3,377.1 190.7,377.1 192,377 C193.3,377 194.7,376.9 196,376.8 C197.3,376.8 198.7,376.7 200,376.6 C201.3,376.5 202.7,376.4 204,376.2 C205.3,376.1 206.7,376 208,375.8 C209.3,375.7 210.7,375.4 212,375.2 C213.3,375 214.7,374.6 216,374.5 C217.3,374.5 218.7,374.9 220,375.1 C221.3,375.3 222.7,375.4 224,375.7 C225.3,376.1 226.7,376.6 228,377.1 C229.3,377.6 230.7,378.2 232,378.7 C233.3,379.2 234.7,379.6 236,380.2 C237.3,380.7 238.7,381.4 240,382 C241.3,382.6 242.7,383.2 244,383.8 C245.3,384.3 246.7,384.8 248,385.4 C249.3,386 250.7,386.6 252,387.3 C253.3,388 254.7,388.7 256,389.4 C257.3,390.2 258.7,390.9 260,391.7 C261.3,392.4 262.7,393.1 264,393.8 C265.3,394.5 266.7,395.1 268,395.9 C269.3,396.6 270.7,397.5 272,398.4 C273.3,399.3 274.7,400.3 276,401.2 C277.3,402.2 278.7,403.1 280,404 C281.3,404.9 282.7,405.8 284,406.6 C285.3,407.5 286.7,408.5 288,409.1 C289.3,409.7 290.7,409.9 292,410.2 C293.3,410.6 294.7,410.9 296,411.1 C297.3,411.4 298.7,411.7 300,412 C301.3,412.2 302.7,412.6 304,412.7 C305.3,412.9 306.7,412.7 308,412.7 C309.3,412.6 310.7,412.6 312,412.6 C313.3,412.5 314.7,412.4 316,412.3 C317.3,412.1 318.7,411.9 320,411.8 C321.3,411.6 322.7,411.5 324,411.3 C325.3,411.2 326.7,411 328,410.8 C329.3,410.7 330.7,410.5 332,410.4 C333.3,410.3 334.7,410.2 336,410.1 C337.3,410 338.7,409.8 340,409.8 C341.3,409.7 342.7,409.8 344,409.7 C345.3,409.7 346.7,409.8 348,409.7 C349.3,409.6 350.7,409.4 352,409.2 C353.3,409 354.7,408.8 356,408.6 C357.3,408.4 358.7,408.2 360,408 C361.3,407.7 362.7,407.5 364,407.4 C365.3,407.2 366.7,407 368,406.8 C369.3,406.6 370.7,406.4 372,406.1 C373.3,405.9 374.7,405.5 376,405.3 C377.3,405 378.7,404.8 380,404.7 C381.3,404.5 382.7,404.4 384,404.3 C385.3,404.1 386.7,404 388,403.8 C389.3,403.7 390.7,403.6 392,403.4 C393.3,403.3 394.7,403.2 396,403 C397.3,402.9 398.7,402.7 400,402.6 C401.3,402.5 402.7,402.3 404,402.2 C405.3,402 406.7,401.9 408,401.7 C409.3,401.6 411.3,401.4 412,401.3" fill="none" stroke="#7a7a10" stroke-width="0.45" stroke-dasharray="2.4,1.2" opacity="0.55"/><path d="M160,381.3 C160.7,381.3 162.7,381.2 164,381.2 C165.3,381.1 166.7,381 168,380.9 C169.3,380.8 170.7,380.6 172,380.5 C173.3,380.4 174.7,380.3 176,380.2 C177.3,380.1 178.7,380.1 180,380 C181.3,379.9 182.7,379.7 184,379.6 C185.3,379.4 186.7,379.3 188,379.1 C189.3,379 190.7,379 192,379 C193.3,378.9 194.7,378.8 196,378.8 C197.3,378.7 198.7,378.6 200,378.5 C201.3,378.5 202.7,378.3 204,378.2 C205.3,378.1 206.7,378 208,377.9 C209.3,377.8 210.7,377.6 212,377.4 C213.3,377.2 214.7,376.9 216,376.9 C217.3,376.9 218.7,377.3 220,377.5 C221.3,377.7 222.7,377.8 224,378.2 C225.3,378.6 226.7,379.2 228,379.8 C229.3,380.4 230.7,381.1 232,381.6 C233.3,382.2 234.7,382.8 236,383.4 C237.3,384 238.7,384.7 240,385.3 C241.3,385.9 242.7,386.4 244,387 C245.3,387.5 246.7,388 248,388.5 C249.3,389.1 250.7,389.7 252,390.4 C253.3,391.1 254.7,392 256,392.7 C257.3,393.5 258.7,394.4 260,395.2 C261.3,396 262.7,396.7 264,397.5 C265.3,398.2 266.7,398.8 268,399.6 C269.3,400.4 270.7,401.3 272,402.2 C273.3,403.2 274.7,404.3 276,405.2 C277.3,406.2 278.7,407.3 280,408.2 C281.3,409.2 282.7,410.1 284,411 C285.3,411.8 286.7,412.9 288,413.5 C289.3,414.1 290.7,414.4 292,414.7 C293.3,415.1 294.7,415.4 296,415.7 C297.3,416 298.7,416.4 300,416.7 C301.3,417 302.7,417.4 304,417.5 C305.3,417.6 306.7,417.4 308,417.3 C309.3,417.2 310.7,417.1 312,417 C313.3,416.9 314.7,416.8 316,416.6 C317.3,416.4 318.7,416.2 320,416 C321.3,415.9 322.7,415.7 324,415.5 C325.3,415.3 326.7,415.1 328,414.9 C329.3,414.8 330.7,414.6 332,414.4 C333.3,414.3 334.7,414.2 336,414 C337.3,413.9 338.7,413.7 340,413.6 C341.3,413.5 342.7,413.5 344,413.4 C345.3,413.4 346.7,413.4 348,413.2 C349.3,413.1 350.7,412.9 352,412.6 C353.3,412.4 354.7,412.2 356,411.9 C357.3,411.7 358.7,411.5 360,411.2 C361.3,411 362.7,410.8 364,410.6 C365.3,410.3 366.7,410.2 368,409.9 C369.3,409.7 370.7,409.4 372,409.1 C373.3,408.8 374.7,408.4 376,408.1 C377.3,407.8 378.7,407.6 380,407.4 C381.3,407.1 382.7,407 384,406.9 C385.3,406.7 386.7,406.5 388,406.4 C389.3,406.2 390.7,406 392,405.9 C393.3,405.7 394.7,405.5 396,405.4 C397.3,405.2 398.7,405 400,404.9 C401.3,404.7 402.7,404.5 404,404.4 C405.3,404.2 406.7,404 408,403.9 C409.3,403.7 411.3,403.4 412,403.4" fill="none" stroke="#7a7a10" stroke-width="0.45" stroke-dasharray="2.4,1.2" opacity="0.55"/><path d="M160,383.4 C160.7,383.3 162.7,383.3 164,383.2 C165.3,383.2 166.7,383.1 168,383 C169.3,382.9 170.7,382.8 172,382.7 C173.3,382.6 174.7,382.5 176,382.4 C177.3,382.3 178.7,382.3 180,382.2 C181.3,382 182.7,381.8 184,381.6 C185.3,381.4 186.7,381.2 188,381.1 C189.3,380.9 190.7,380.9 192,380.9 C193.3,380.8 194.7,380.7 196,380.7 C197.3,380.6 198.7,380.5 200,380.5 C201.3,380.4 202.7,380.3 204,380.2 C205.3,380.1 206.7,380.1 208,380 C209.3,379.9 210.7,379.7 212,379.6 C213.3,379.5 214.7,379.2 216,379.2 C217.3,379.3 218.7,379.7 220,379.9 C221.3,380.2 222.7,380.3 224,380.7 C225.3,381.2 226.7,381.9 228,382.5 C229.3,383.2 230.7,384 232,384.6 C233.3,385.3 234.7,385.9 236,386.5 C237.3,387.2 238.7,387.9 240,388.5 C241.3,389.1 242.7,389.6 244,390.1 C245.3,390.7 246.7,391.1 248,391.6 C249.3,392.2 250.7,392.8 252,393.6 C253.3,394.3 254.7,395.2 256,396.1 C257.3,396.9 258.7,397.8 260,398.7 C261.3,399.5 262.7,400.3 264,401.1 C265.3,401.9 266.7,402.5 268,403.3 C269.3,404.2 270.7,405.1 272,406.1 C273.3,407.1 274.7,408.2 276,409.3 C277.3,410.3 278.7,411.4 280,412.4 C281.3,413.4 282.7,414.4 284,415.3 C285.3,416.2 286.7,417.3 288,417.9 C289.3,418.6 290.7,418.8 292,419.2 C293.3,419.6 294.7,419.9 296,420.2 C297.3,420.6 298.7,421 300,421.3 C301.3,421.7 302.7,422.2 304,422.3 C305.3,422.4 306.7,422 308,421.9 C309.3,421.7 310.7,421.6 312,421.5 C313.3,421.3 314.7,421.1 316,420.9 C317.3,420.7 318.7,420.5 320,420.3 C321.3,420.1 322.7,419.9 324,419.7 C325.3,419.4 326.7,419.2 328,419 C329.3,418.8 330.7,418.7 332,418.5 C333.3,418.3 334.7,418.2 336,418 C337.3,417.8 338.7,417.6 340,417.5 C341.3,417.4 342.7,417.3 344,417.1 C345.3,417 346.7,417 348,416.8 C349.3,416.6 350.7,416.3 352,416.1 C353.3,415.8 354.7,415.6 356,415.3 C357.3,415 358.7,414.8 360,414.5 C361.3,414.3 362.7,414 364,413.8 C365.3,413.5 366.7,413.4 368,413.1 C369.3,412.8 370.7,412.5 372,412.1 C373.3,411.8 374.7,411.3 376,410.9 C377.3,410.6 378.7,410.3 380,410 C381.3,409.8 382.7,409.6 384,409.5 C385.3,409.3 386.7,409.1 388,408.9 C389.3,408.7 390.7,408.5 392,408.3 C393.3,408.1 394.7,407.9 396,407.7 C397.3,407.5 398.7,407.3 400,407.1 C401.3,406.9 402.7,406.8 404,406.6 C405.3,406.4 406.7,406.2 408,406 C409.3,405.8 411.3,405.5 412,405.4" fill="none" stroke="#7a7a10" stroke-width="0.45" stroke-dasharray="2.4,1.2" opacity="0.55"/><path d="M160,385.4 C160.7,385.4 162.7,385.3 164,385.3 C165.3,385.2 166.7,385.2 168,385.1 C169.3,385 170.7,384.9 172,384.8 C173.3,384.7 174.7,384.6 176,384.6 C177.3,384.5 178.7,384.5 180,384.3 C181.3,384.2 182.7,383.8 184,383.6 C185.3,383.4 186.7,383.1 188,383 C189.3,382.8 190.7,382.8 192,382.8 C193.3,382.7 194.7,382.6 196,382.6 C197.3,382.5 198.7,382.4 200,382.4 C201.3,382.3 202.7,382.3 204,382.2 C205.3,382.1 206.7,382.1 208,382 C209.3,382 210.7,381.9 212,381.8 C213.3,381.7 214.7,381.5 216,381.6 C217.3,381.7 218.7,382.1 220,382.4 C221.3,382.6 222.7,382.7 224,383.2 C225.3,383.7 226.7,384.5 228,385.3 C229.3,386 230.7,386.8 232,387.6 C233.3,388.3 234.7,389 236,389.7 C237.3,390.4 238.7,391.1 240,391.7 C241.3,392.3 242.7,392.8 244,393.3 C245.3,393.8 246.7,394.2 248,394.8 C249.3,395.3 250.7,395.9 252,396.7 C253.3,397.5 254.7,398.4 256,399.4 C257.3,400.3 258.7,401.2 260,402.1 C261.3,403 262.7,403.9 264,404.8 C265.3,405.6 266.7,406.2 268,407.1 C269.3,407.9 270.7,408.9 272,410 C273.3,411 274.7,412.2 276,413.3 C277.3,414.4 278.7,415.6 280,416.6 C281.3,417.7 282.7,418.7 284,419.6 C285.3,420.6 286.7,421.7 288,422.3 C289.3,423 290.7,423.3 292,423.7 C293.3,424.1 294.7,424.4 296,424.8 C297.3,425.2 298.7,425.6 300,426 C301.3,426.4 302.7,427 304,427.1 C305.3,427.1 306.7,426.7 308,426.5 C309.3,426.3 310.7,426.1 312,425.9 C313.3,425.7 314.7,425.5 316,425.3 C317.3,425 318.7,424.8 320,424.5 C321.3,424.3 322.7,424.1 324,423.8 C325.3,423.6 326.7,423.4 328,423.1 C329.3,422.9 330.7,422.7 332,422.5 C333.3,422.3 334.7,422.1 336,421.9 C337.3,421.7 338.7,421.5 340,421.3 C341.3,421.2 342.7,421 344,420.8 C345.3,420.7 346.7,420.5 348,420.3 C349.3,420.1 350.7,419.8 352,419.5 C353.3,419.2 354.7,418.9 356,418.7 C357.3,418.4 358.7,418.1 360,417.8 C361.3,417.5 362.7,417.2 364,417 C365.3,416.7 366.7,416.5 368,416.2 C369.3,415.9 370.7,415.6 372,415.2 C373.3,414.7 374.7,414.2 376,413.8 C377.3,413.4 378.7,413 380,412.7 C381.3,412.4 382.7,412.3 384,412.1 C385.3,411.8 386.7,411.6 388,411.4 C389.3,411.2 390.7,410.9 392,410.7 C393.3,410.5 394.7,410.3 396,410 C397.3,409.8 398.7,409.6 400,409.4 C401.3,409.2 402.7,409 404,408.8 C405.3,408.6 406.7,408.3 408,408.1 C409.3,407.9 411.3,407.6 412,407.5" fill="none" stroke="#7a7a10" stroke-width="0.45" stroke-dasharray="2.4,1.2" opacity="0.55"/>
<path d="M160,390.4 C160.7,390.4 162.7,390.4 164,390.4 C165.3,390.4 166.7,390.4 168,390.4 C169.3,390.4 170.7,390.3 172,390.3 C173.3,390.2 174.7,390.2 176,390.1 C177.3,390.1 178.7,390.1 180,390 C181.3,390 182.7,389.9 184,389.8 C185.3,389.7 186.7,389.7 188,389.7 C189.3,389.7 190.7,389.9 192,390 C193.3,390.1 194.7,390.2 196,390.2 C197.3,390.3 198.7,390.3 200,390.4 C201.3,390.5 202.7,390.7 204,390.8 C205.3,390.9 206.7,391 208,391.2 C209.3,391.3 210.7,391.5 212,391.7 C213.3,391.8 214.7,391.9 216,392.2 C217.3,392.4 218.7,392.8 220,393.3 C221.3,393.7 222.7,394 224,394.6 C225.3,395.2 226.7,396 228,396.8 C229.3,397.6 230.7,398.4 232,399.2 C233.3,399.9 234.7,400.6 236,401.2 C237.3,401.8 238.7,402.3 240,402.9 C241.3,403.5 242.7,404 244,404.6 C245.3,405.2 246.7,405.7 248,406.6 C249.3,407.4 250.7,408.6 252,409.6 C253.3,410.6 254.7,411.7 256,412.7 C257.3,413.7 258.7,414.8 260,415.8 C261.3,416.8 262.7,417.8 264,418.8 C265.3,419.7 266.7,420.5 268,421.4 C269.3,422.4 270.7,423.5 272,424.5 C273.3,425.6 274.7,426.6 276,427.7 C277.3,428.7 278.7,429.8 280,430.8 C281.3,431.7 282.7,432.7 284,433.5 C285.3,434.4 286.7,435.4 288,436.1 C289.3,436.8 290.7,437.2 292,437.7 C293.3,438.2 294.7,438.6 296,439 C297.3,439.4 298.7,440 300,440.3 C301.3,440.7 302.7,441.2 304,441.3 C305.3,441.4 306.7,441.1 308,440.9 C309.3,440.7 310.7,440.5 312,440.3 C313.3,440.1 314.7,439.8 316,439.5 C317.3,439.2 318.7,438.9 320,438.6 C321.3,438.2 322.7,437.8 324,437.4 C325.3,437 326.7,436.6 328,436.2 C329.3,435.9 330.7,435.6 332,435.2 C333.3,434.9 334.7,434.5 336,434.2 C337.3,433.9 338.7,433.5 340,433.2 C341.3,432.8 342.7,432.4 344,432 C345.3,431.6 346.7,431.3 348,430.9 C349.3,430.5 350.7,430 352,429.6 C353.3,429.1 354.7,428.7 356,428.3 C357.3,427.9 358.7,427.5 360,427 C361.3,426.6 362.7,426.2 364,425.8 C365.3,425.4 366.7,425.1 368,424.7 C369.3,424.2 370.7,423.7 372,423.3 C373.3,422.8 374.7,422.3 376,421.8 C377.3,421.4 378.7,421 380,420.7 C381.3,420.4 382.7,420.1 384,419.8 C385.3,419.6 386.7,419.3 388,419 C389.3,418.7 390.7,418.5 392,418.2 C393.3,418 394.7,417.7 396,417.5 C397.3,417.2 398.7,417 400,416.8 C401.3,416.6 402.7,416.3 404,416.1 C405.3,415.9 406.7,415.6 408,415.4 C409.3,415.2 411.3,415 412,414.9" fill="none" stroke="#3a7a2a" stroke-width="0.45" stroke-dasharray="2.4,1.2" opacity="0.55"/><path d="M160,392.8 C160.7,392.8 162.7,392.8 164,392.8 C165.3,392.8 166.7,392.8 168,392.8 C169.3,392.9 170.7,392.8 172,392.8 C173.3,392.8 174.7,392.8 176,392.8 C177.3,392.8 178.7,392.7 180,392.8 C181.3,392.9 182.7,393.1 184,393.3 C185.3,393.5 186.7,393.6 188,393.8 C189.3,394.1 190.7,394.4 192,394.7 C193.3,394.9 194.7,395.1 196,395.3 C197.3,395.6 198.7,395.7 200,395.9 C201.3,396.2 202.7,396.4 204,396.7 C205.3,397 206.7,397.2 208,397.5 C209.3,397.9 210.7,398.2 212,398.6 C213.3,398.9 214.7,399.2 216,399.6 C217.3,400 218.7,400.4 220,400.9 C221.3,401.4 222.7,401.9 224,402.6 C225.3,403.2 226.7,404 228,404.7 C229.3,405.4 230.7,406.2 232,406.8 C233.3,407.4 234.7,407.9 236,408.4 C237.3,408.9 238.7,409.3 240,409.8 C241.3,410.4 242.7,410.9 244,411.6 C245.3,412.4 246.7,413.1 248,414.3 C249.3,415.4 250.7,417.1 252,418.3 C253.3,419.6 254.7,420.6 256,421.7 C257.3,422.7 258.7,423.8 260,424.8 C261.3,425.8 262.7,426.9 264,427.9 C265.3,428.9 266.7,429.8 268,430.8 C269.3,431.8 270.7,432.9 272,433.9 C273.3,434.9 274.7,435.8 276,436.7 C277.3,437.6 278.7,438.5 280,439.3 C281.3,440.1 282.7,440.9 284,441.7 C285.3,442.5 286.7,443.3 288,444 C289.3,444.6 290.7,445.2 292,445.8 C293.3,446.3 294.7,446.7 296,447.2 C297.3,447.6 298.7,448.1 300,448.4 C301.3,448.8 302.7,449.1 304,449.2 C305.3,449.3 306.7,449.2 308,449.1 C309.3,449.1 310.7,449 312,448.8 C313.3,448.6 314.7,448.3 316,448 C317.3,447.7 318.7,447.3 320,446.9 C321.3,446.5 322.7,445.9 324,445.4 C325.3,444.8 326.7,444.3 328,443.9 C329.3,443.4 330.7,443 332,442.5 C333.3,442.1 334.7,441.7 336,441.2 C337.3,440.7 338.7,440.3 340,439.8 C341.3,439.3 342.7,438.8 344,438.3 C345.3,437.7 346.7,437.2 348,436.7 C349.3,436.1 350.7,435.6 352,435 C353.3,434.5 354.7,434 356,433.4 C357.3,432.9 358.7,432.4 360,431.9 C361.3,431.4 362.7,430.9 364,430.4 C365.3,429.9 366.7,429.4 368,428.9 C369.3,428.4 370.7,427.8 372,427.3 C373.3,426.9 374.7,426.5 376,426.1 C377.3,425.8 378.7,425.4 380,425.1 C381.3,424.7 382.7,424.5 384,424.2 C385.3,423.8 386.7,423.5 388,423.2 C389.3,423 390.7,422.7 392,422.5 C393.3,422.2 394.7,422 396,421.8 C397.3,421.6 398.7,421.4 400,421.1 C401.3,420.9 402.7,420.7 404,420.5 C405.3,420.3 406.7,420.1 408,419.9 C409.3,419.7 411.3,419.5 412,419.5" fill="none" stroke="#3a7a2a" stroke-width="0.45" stroke-dasharray="2.4,1.2" opacity="0.55"/>
<path d="M165,397.7 C165.7,397.7 167.7,397.8 169,397.8 C170.3,397.8 171.7,397.7 173,397.7 C174.3,397.8 175.7,397.9 177,398 C178.3,398.1 179.7,398.2 181,398.5 C182.3,398.8 183.7,399.4 185,399.8 C186.3,400.2 187.7,400.7 189,401.1 C190.3,401.5 191.7,402 193,402.4 C194.3,402.8 195.7,403.2 197,403.6 C198.3,404 199.7,404.4 201,404.8 C202.3,405.2 203.7,405.7 205,406.2 C206.3,406.7 207.7,407.2 209,407.7 C210.3,408.1 211.7,408.7 213,409.2 C214.3,409.7 215.7,410.1 217,410.7 C218.3,411.2 219.7,411.7 221,412.3 C222.3,412.9 223.7,413.6 225,414.2 C226.3,414.8 227.7,415.5 229,416.1 C230.3,416.7 231.7,417.2 233,417.6 C234.3,418.1 235.7,418.4 237,418.8 C238.3,419.2 239.7,419.4 241,420 C242.3,420.5 243.7,421.1 245,422.1 C246.3,423.2 247.7,424.8 249,426.2 C250.3,427.5 251.7,429 253,430.3 C254.3,431.5 255.7,432.5 257,433.6 C258.3,434.7 259.7,435.7 261,436.8 C262.3,437.9 263.7,439.1 265,440.2 C266.3,441.3 267.7,442.5 269,443.6 C270.3,444.7 271.7,445.8 273,446.7 C274.3,447.7 275.7,448.5 277,449.3 C278.3,450.1 279.7,450.9 281,451.6 C282.3,452.4 283.7,453.2 285,453.9 C286.3,454.7 287.7,455.4 289,456.1 C290.3,456.8 291.7,457.6 293,458.1 C294.3,458.7 295.7,459 297,459.4 C298.3,459.7 299.7,460.1 301,460.4 C302.3,460.6 303.7,460.7 305,460.8 C306.3,460.9 307.7,461 309,460.9 C310.3,460.9 311.7,460.9 313,460.7 C314.3,460.5 315.7,460 317,459.6 C318.3,459.2 319.7,458.8 321,458.3 C322.3,457.7 323.7,456.9 325,456.3 C326.3,455.6 327.7,455 329,454.4 C330.3,453.8 331.7,453.3 333,452.7 C334.3,452.1 335.7,451.6 337,451 C338.3,450.4 339.7,449.8 341,449 C342.3,448.3 343.7,447.4 345,446.6 C346.3,445.8 347.7,445.1 349,444.3 C350.3,443.5 351.7,442.7 353,442 C354.3,441.3 355.7,440.6 357,440 C358.3,439.3 359.7,438.6 361,438 C362.3,437.4 363.7,436.8 365,436.3 C366.3,435.7 367.7,435.2 369,434.7 C370.3,434.2 371.7,433.7 373,433.4 C374.3,433 375.7,432.8 377,432.5 C378.3,432.3 379.7,432 381,431.7 C382.3,431.4 383.7,431.1 385,430.9 C386.3,430.6 387.7,430.3 389,430 C390.3,429.8 391.7,429.5 393,429.3 C394.3,429 395.7,428.7 397,428.5 C398.3,428.3 399.7,428.1 401,427.9 C402.3,427.7 403.7,427.5 405,427.3 C406.3,427.2 407.7,427 409,426.9 C410.3,426.8 412.3,426.8 413,426.8" fill="none" stroke="#3a7a2a" stroke-width="0.45" stroke-dasharray="2.4,1.2" opacity="0.55"/><path d="M165,400.1 C165.7,400.1 167.7,400.2 169,400.1 C170.3,400.1 171.7,399.9 173,400 C174.3,400 175.7,400.2 177,400.4 C178.3,400.5 179.7,400.7 181,401 C182.3,401.4 183.7,402 185,402.4 C186.3,402.9 187.7,403.3 189,403.7 C190.3,404.2 191.7,404.6 193,405 C194.3,405.4 195.7,405.9 197,406.3 C198.3,406.8 199.7,407.2 201,407.7 C202.3,408.2 203.7,408.8 205,409.3 C206.3,409.8 207.7,410.3 209,410.8 C210.3,411.3 211.7,411.7 213,412.2 C214.3,412.7 215.7,413.2 217,413.7 C218.3,414.2 219.7,414.7 221,415.3 C222.3,415.8 223.7,416.5 225,417.1 C226.3,417.7 227.7,418.3 229,418.9 C230.3,419.4 231.7,419.9 233,420.4 C234.3,420.8 235.7,421.1 237,421.5 C238.3,421.9 239.7,422.2 241,422.7 C242.3,423.2 243.7,423.8 245,424.7 C246.3,425.7 247.7,427.2 249,428.5 C250.3,429.8 251.7,431.2 253,432.3 C254.3,433.5 255.7,434.4 257,435.5 C258.3,436.6 259.7,437.6 261,438.7 C262.3,439.8 263.7,441.1 265,442.3 C266.3,443.5 267.7,444.7 269,445.9 C270.3,447.1 271.7,448.3 273,449.3 C274.3,450.3 275.7,451.1 277,452 C278.3,452.9 279.7,453.8 281,454.7 C282.3,455.6 283.7,456.5 285,457.3 C286.3,458.2 287.7,458.9 289,459.6 C290.3,460.3 291.7,461.1 293,461.6 C294.3,462.2 295.7,462.5 297,462.8 C298.3,463.2 299.7,463.6 301,463.8 C302.3,464 303.7,464.1 305,464.2 C306.3,464.3 307.7,464.3 309,464.3 C310.3,464.2 311.7,464.3 313,464 C314.3,463.8 315.7,463.3 317,462.9 C318.3,462.5 319.7,462 321,461.4 C322.3,460.9 323.7,460.1 325,459.4 C326.3,458.8 327.7,458.2 329,457.6 C330.3,456.9 331.7,456.4 333,455.8 C334.3,455.2 335.7,454.6 337,454 C338.3,453.3 339.7,452.7 341,451.9 C342.3,451.1 343.7,450 345,449.1 C346.3,448.1 347.7,447.3 349,446.4 C350.3,445.6 351.7,444.6 353,443.8 C354.3,443 355.7,442.3 357,441.6 C358.3,440.9 359.7,440.2 361,439.5 C362.3,438.9 363.7,438.4 365,437.9 C366.3,437.4 367.7,437 369,436.6 C370.3,436.2 371.7,435.7 373,435.4 C374.3,435.1 375.7,435 377,434.7 C378.3,434.5 379.7,434.3 381,434.1 C382.3,433.8 383.7,433.6 385,433.4 C386.3,433.1 387.7,432.9 389,432.7 C390.3,432.4 391.7,432.1 393,431.8 C394.3,431.5 395.7,431.2 397,430.9 C398.3,430.6 399.7,430.4 401,430.2 C402.3,430 403.7,429.9 405,429.7 C406.3,429.6 407.7,429.5 409,429.4 C410.3,429.4 412.3,429.5 413,429.5" fill="none" stroke="#3a7a2a" stroke-width="0.45" stroke-dasharray="2.4,1.2" opacity="0.55"/><path d="M165,402.5 C165.7,402.5 167.7,402.5 169,402.5 C170.3,402.4 171.7,402.2 173,402.2 C174.3,402.2 175.7,402.5 177,402.7 C178.3,403 179.7,403.2 181,403.5 C182.3,403.9 183.7,404.6 185,405 C186.3,405.5 187.7,406 189,406.4 C190.3,406.8 191.7,407.2 193,407.6 C194.3,408.1 195.7,408.6 197,409 C198.3,409.5 199.7,410 201,410.6 C202.3,411.1 203.7,411.8 205,412.4 C206.3,413 207.7,413.5 209,413.9 C210.3,414.4 211.7,414.8 213,415.2 C214.3,415.7 215.7,416.2 217,416.7 C218.3,417.2 219.7,417.7 221,418.2 C222.3,418.8 223.7,419.4 225,419.9 C226.3,420.5 227.7,421.1 229,421.7 C230.3,422.2 231.7,422.7 233,423.1 C234.3,423.5 235.7,423.9 237,424.3 C238.3,424.6 239.7,424.9 241,425.4 C242.3,425.9 243.7,426.4 245,427.3 C246.3,428.2 247.7,429.7 249,430.9 C250.3,432 251.7,433.3 253,434.4 C254.3,435.5 255.7,436.4 257,437.4 C258.3,438.4 259.7,439.4 261,440.6 C262.3,441.8 263.7,443.1 265,444.4 C266.3,445.7 267.7,447 269,448.2 C270.3,449.5 271.7,450.7 273,451.8 C274.3,452.9 275.7,453.8 277,454.8 C278.3,455.7 279.7,456.8 281,457.8 C282.3,458.8 283.7,459.8 285,460.7 C286.3,461.6 287.7,462.4 289,463.1 C290.3,463.9 291.7,464.6 293,465.2 C294.3,465.7 295.7,466 297,466.3 C298.3,466.7 299.7,467 301,467.2 C302.3,467.4 303.7,467.5 305,467.6 C306.3,467.7 307.7,467.6 309,467.6 C310.3,467.6 311.7,467.6 313,467.3 C314.3,467.1 315.7,466.6 317,466.1 C318.3,465.7 319.7,465.2 321,464.6 C322.3,464.1 323.7,463.3 325,462.6 C326.3,462 327.7,461.3 329,460.7 C330.3,460 331.7,459.4 333,458.8 C334.3,458.2 335.7,457.6 337,456.9 C338.3,456.3 339.7,455.6 341,454.7 C342.3,453.8 343.7,452.5 345,451.5 C346.3,450.5 347.7,449.5 349,448.6 C350.3,447.6 351.7,446.6 353,445.7 C354.3,444.8 355.7,444.1 357,443.3 C358.3,442.5 359.7,441.7 361,441.1 C362.3,440.4 363.7,439.9 365,439.5 C366.3,439 367.7,438.7 369,438.4 C370.3,438.1 371.7,437.8 373,437.5 C374.3,437.3 375.7,437.1 377,437 C378.3,436.8 379.7,436.6 381,436.4 C382.3,436.2 383.7,436 385,435.9 C386.3,435.7 387.7,435.6 389,435.3 C390.3,435.1 391.7,434.7 393,434.3 C394.3,434 395.7,433.6 397,433.3 C398.3,433 399.7,432.8 401,432.6 C402.3,432.4 403.7,432.3 405,432.1 C406.3,432 407.7,431.9 409,431.9 C410.3,431.9 412.3,432.1 413,432.1" fill="none" stroke="#3a7a2a" stroke-width="0.45" stroke-dasharray="2.4,1.2" opacity="0.55"/>
<path d="M175,406.3 C175.7,406.5 177.7,406.9 179,407.3 C180.3,407.7 181.7,408.2 183,408.7 C184.3,409.2 185.7,409.8 187,410.3 C188.3,410.8 189.7,411.3 191,411.8 C192.3,412.3 193.7,412.8 195,413.3 C196.3,413.8 197.7,414.2 199,414.8 C200.3,415.4 201.7,416 203,416.7 C204.3,417.4 205.7,418.2 207,418.9 C208.3,419.5 209.7,419.9 211,420.4 C212.3,421 213.7,421.5 215,422.1 C216.3,422.6 217.7,423.2 219,423.8 C220.3,424.3 221.7,424.8 223,425.4 C224.3,426 225.7,426.5 227,427.1 C228.3,427.8 229.7,428.5 231,429.2 C232.3,429.8 233.7,430.5 235,431.1 C236.3,431.6 237.7,432 239,432.5 C240.3,433 241.7,433.5 243,434.1 C244.3,434.7 245.7,435 247,436.1 C248.3,437.2 249.7,439.2 251,440.4 C252.3,441.6 253.7,442.4 255,443.4 C256.3,444.5 257.7,445.5 259,446.6 C260.3,447.7 261.7,448.9 263,450.1 C264.3,451.3 265.7,452.7 267,453.9 C268.3,455.1 269.7,456.4 271,457.6 C272.3,458.7 273.7,459.6 275,460.7 C276.3,461.7 277.7,462.8 279,463.9 C280.3,465 281.7,466.2 283,467.3 C284.3,468.4 285.7,469.7 287,470.5 C288.3,471.4 289.7,471.9 291,472.4 C292.3,473 293.7,473.6 295,474 C296.3,474.5 297.7,474.8 299,475.1 C300.3,475.3 301.7,475.4 303,475.6 C304.3,475.7 305.7,475.8 307,475.8 C308.3,475.7 309.7,475.5 311,475.3 C312.3,475.1 313.7,474.9 315,474.5 C316.3,474.1 317.7,473.5 319,472.9 C320.3,472.3 321.7,471.6 323,470.9 C324.3,470.2 325.7,469.4 327,468.7 C328.3,468 329.7,467.3 331,466.7 C332.3,466 333.7,465.4 335,464.7 C336.3,464.1 337.7,463.7 339,462.8 C340.3,462 341.7,460.8 343,459.7 C344.3,458.6 345.7,457.5 347,456.4 C348.3,455.3 349.7,454.3 351,453.3 C352.3,452.3 353.7,451.3 355,450.4 C356.3,449.5 357.7,448.8 359,448 C360.3,447.2 361.7,446.3 363,445.7 C364.3,445.1 365.7,445 367,444.6 C368.3,444.2 369.7,443.8 371,443.5 C372.3,443.2 373.7,443 375,442.7 C376.3,442.5 377.7,442.2 379,442 C380.3,441.8 381.7,441.6 383,441.5 C384.3,441.3 385.7,441.2 387,441.1 C388.3,440.9 389.7,440.8 391,440.5 C392.3,440.3 393.7,439.9 395,439.6 C396.3,439.3 397.7,438.9 399,438.8 C400.3,438.6 401.7,438.8 403,438.8 C404.3,438.8 405.7,438.7 407,438.8 C408.3,438.8 409.7,439 411,439.1 C412.3,439.2 414.3,439.4 415,439.5" fill="none" stroke="#1d4f8f" stroke-width="0.45" stroke-dasharray="2.4,1.2" opacity="0.6"/><path d="M175,407.9 C175.7,408.1 177.7,408.6 179,409.1 C180.3,409.5 181.7,410 183,410.6 C184.3,411.1 185.7,411.6 187,412.2 C188.3,412.8 189.7,413.4 191,414 C192.3,414.5 193.7,415.1 195,415.6 C196.3,416.1 197.7,416.4 199,417 C200.3,417.6 201.7,418.3 203,419 C204.3,419.7 205.7,420.5 207,421.2 C208.3,421.9 209.7,422.5 211,423.2 C212.3,423.9 213.7,424.5 215,425.2 C216.3,425.8 217.7,426.6 219,427.2 C220.3,427.8 221.7,428.2 223,428.8 C224.3,429.4 225.7,430 227,430.7 C228.3,431.4 229.7,432.3 231,433.2 C232.3,434 233.7,435 235,435.7 C236.3,436.4 237.7,436.9 239,437.5 C240.3,438.1 241.7,438.5 243,439.2 C244.3,439.8 245.7,440.3 247,441.3 C248.3,442.4 249.7,444.3 251,445.6 C252.3,446.9 253.7,448 255,449.1 C256.3,450.2 257.7,451.2 259,452.3 C260.3,453.4 261.7,454.6 263,455.7 C264.3,456.9 265.7,458.2 267,459.3 C268.3,460.4 269.7,461.5 271,462.5 C272.3,463.6 273.7,464.4 275,465.4 C276.3,466.4 277.7,467.5 279,468.6 C280.3,469.7 281.7,470.9 283,472.1 C284.3,473.2 285.7,474.5 287,475.4 C288.3,476.2 289.7,476.6 291,477.2 C292.3,477.8 293.7,478.3 295,478.7 C296.3,479.2 297.7,479.6 299,479.8 C300.3,480.1 301.7,480.2 303,480.3 C304.3,480.4 305.7,480.5 307,480.5 C308.3,480.4 309.7,480.1 311,479.9 C312.3,479.6 313.7,479.3 315,478.9 C316.3,478.4 317.7,477.8 319,477.2 C320.3,476.5 321.7,475.7 323,475 C324.3,474.2 325.7,473.3 327,472.6 C328.3,471.8 329.7,471.2 331,470.6 C332.3,469.9 333.7,469.2 335,468.6 C336.3,468 337.7,467.5 339,466.7 C340.3,465.9 341.7,464.7 343,463.7 C344.3,462.6 345.7,461.5 347,460.5 C348.3,459.4 349.7,458.4 351,457.5 C352.3,456.5 353.7,455.5 355,454.6 C356.3,453.8 357.7,453 359,452.3 C360.3,451.5 361.7,450.6 363,449.9 C364.3,449.3 365.7,449 367,448.5 C368.3,448.1 369.7,447.5 371,447.1 C372.3,446.7 373.7,446.4 375,446 C376.3,445.7 377.7,445.3 379,445 C380.3,444.8 381.7,444.5 383,444.4 C384.3,444.2 385.7,444.1 387,444 C388.3,443.8 389.7,443.7 391,443.5 C392.3,443.3 393.7,443.1 395,442.9 C396.3,442.7 397.7,442.4 399,442.4 C400.3,442.4 401.7,442.7 403,442.8 C404.3,442.9 405.7,443.1 407,443.2 C408.3,443.3 409.7,443.5 411,443.6 C412.3,443.7 414.3,443.9 415,444" fill="none" stroke="#1d4f8f" stroke-width="0.45" stroke-dasharray="2.4,1.2" opacity="0.6"/><path d="M175,409.5 C175.7,409.7 177.7,410.4 179,410.9 C180.3,411.4 181.7,411.9 183,412.4 C184.3,413 185.7,413.4 187,414.1 C188.3,414.7 189.7,415.5 191,416.1 C192.3,416.8 193.7,417.4 195,417.9 C196.3,418.4 197.7,418.7 199,419.2 C200.3,419.8 201.7,420.5 203,421.2 C204.3,421.9 205.7,422.8 207,423.5 C208.3,424.3 209.7,425.2 211,426 C212.3,426.7 213.7,427.5 215,428.3 C216.3,429.1 217.7,429.9 219,430.5 C220.3,431.2 221.7,431.6 223,432.2 C224.3,432.8 225.7,433.4 227,434.2 C228.3,435 229.7,436.1 231,437.1 C232.3,438.2 233.7,439.5 235,440.4 C236.3,441.3 237.7,441.8 239,442.5 C240.3,443.1 241.7,443.6 243,444.2 C244.3,444.9 245.7,445.5 247,446.6 C248.3,447.7 249.7,449.5 251,450.9 C252.3,452.2 253.7,453.6 255,454.8 C256.3,456 257.7,457 259,458.1 C260.3,459.2 261.7,460.3 263,461.4 C264.3,462.5 265.7,463.6 267,464.7 C268.3,465.7 269.7,466.6 271,467.5 C272.3,468.4 273.7,469.2 275,470.2 C276.3,471.1 277.7,472.2 279,473.3 C280.3,474.4 281.7,475.7 283,476.9 C284.3,478 285.7,479.4 287,480.3 C288.3,481.1 289.7,481.4 291,482 C292.3,482.5 293.7,483 295,483.5 C296.3,483.9 297.7,484.3 299,484.6 C300.3,484.9 301.7,485 303,485 C304.3,485.1 305.7,485.3 307,485.2 C308.3,485.1 309.7,484.7 311,484.4 C312.3,484.1 313.7,483.7 315,483.2 C316.3,482.7 317.7,482.1 319,481.4 C320.3,480.7 321.7,479.9 323,479 C324.3,478.2 325.7,477.2 327,476.4 C328.3,475.7 329.7,475.1 331,474.4 C332.3,473.7 333.7,473.1 335,472.4 C336.3,471.8 337.7,471.4 339,470.6 C340.3,469.8 341.7,468.7 343,467.6 C344.3,466.6 345.7,465.6 347,464.6 C348.3,463.6 349.7,462.6 351,461.7 C352.3,460.7 353.7,459.8 355,458.9 C356.3,458 357.7,457.3 359,456.5 C360.3,455.7 361.7,454.8 363,454.2 C364.3,453.5 365.7,453 367,452.5 C368.3,451.9 369.7,451.3 371,450.8 C372.3,450.2 373.7,449.8 375,449.4 C376.3,448.9 377.7,448.4 379,448.1 C380.3,447.7 381.7,447.5 383,447.3 C384.3,447.1 385.7,447 387,446.9 C388.3,446.7 389.7,446.6 391,446.5 C392.3,446.4 393.7,446.3 395,446.2 C396.3,446.1 397.7,445.9 399,446 C400.3,446.1 401.7,446.5 403,446.8 C404.3,447.1 405.7,447.4 407,447.6 C408.3,447.8 409.7,447.9 411,448.1 C412.3,448.2 414.3,448.4 415,448.5" fill="none" stroke="#1d4f8f" stroke-width="0.45" stroke-dasharray="2.4,1.2" opacity="0.6"/>
<path d="M40,391 C40.7,391 42.7,391.1 44,391.2 C45.3,391.2 46.7,391.3 48,391.4 C49.3,391.4 50.7,391.5 52,391.5 C53.3,391.5 54.7,391.6 56,391.6 C57.3,391.6 58.7,391.9 60,391.7 C61.3,391.5 62.7,391 64,390.6 C65.3,390.2 66.7,389.8 68,389.4 C69.3,388.9 70.7,388.5 72,388.1 C73.3,387.7 74.7,387.3 76,386.8 C77.3,386.3 78.7,385.6 80,385.1 C81.3,384.6 82.7,384.3 84,383.9 C85.3,383.5 86.7,383.2 88,382.8 C89.3,382.4 90.7,382 92,381.5 C93.3,381.1 94.7,380.6 96,380 C97.3,379.5 98.7,378.8 100,378.1 C101.3,377.5 102.7,376.8 104,376 C105.3,375.2 106.7,374.2 108,373.4 C109.3,372.6 110.7,371.9 112,371.2 C113.3,370.5 114.7,369.8 116,369.1 C117.3,368.4 118.7,367.7 120,367.1 C121.3,366.4 122.7,365.8 124,365.3 C125.3,364.7 126.7,363.9 128,363.5 C129.3,363.2 130.7,363.2 132,363.2 C133.3,363.1 134.7,363.2 136,363.3 C137.3,363.5 138.7,363.8 140,364.1 C141.3,364.4 142.7,364.8 144,365.2 C145.3,365.6 146.7,366 148,366.5 C149.3,367 151.3,367.7 152,368" fill="none" stroke="#7a7a10" stroke-width="0.45" stroke-dasharray="2.4,1.2" opacity="0.55"/><path d="M40,393.6 C40.7,393.6 42.7,393.7 44,393.7 C45.3,393.8 46.7,393.9 48,393.9 C49.3,394 50.7,394 52,394 C53.3,394.1 54.7,394.1 56,394.1 C57.3,394.1 58.7,394.3 60,394.1 C61.3,394 62.7,393.5 64,393.1 C65.3,392.8 66.7,392.4 68,392 C69.3,391.6 70.7,391.3 72,390.9 C73.3,390.4 74.7,390 76,389.6 C77.3,389.1 78.7,388.5 80,388 C81.3,387.5 82.7,387.1 84,386.7 C85.3,386.3 86.7,386 88,385.6 C89.3,385.3 90.7,384.9 92,384.4 C93.3,384 94.7,383.5 96,382.9 C97.3,382.4 98.7,381.7 100,381.1 C101.3,380.4 102.7,379.9 104,379.1 C105.3,378.3 106.7,377.2 108,376.4 C109.3,375.5 110.7,375 112,374.3 C113.3,373.6 114.7,372.9 116,372.2 C117.3,371.6 118.7,370.9 120,370.2 C121.3,369.6 122.7,368.9 124,368.3 C125.3,367.7 126.7,366.9 128,366.5 C129.3,366.2 130.7,366.2 132,366.1 C133.3,366.1 134.7,366.1 136,366.2 C137.3,366.4 138.7,366.6 140,366.9 C141.3,367.2 142.7,367.7 144,368.1 C145.3,368.5 146.7,369 148,369.4 C149.3,369.9 151.3,370.7 152,370.9" fill="none" stroke="#7a7a10" stroke-width="0.45" stroke-dasharray="2.4,1.2" opacity="0.55"/><path d="M40,396.1 C40.7,396.2 42.7,396.2 44,396.3 C45.3,396.4 46.7,396.4 48,396.5 C49.3,396.5 50.7,396.6 52,396.6 C53.3,396.6 54.7,396.6 56,396.6 C57.3,396.6 58.7,396.8 60,396.6 C61.3,396.5 62.7,396 64,395.7 C65.3,395.4 66.7,395 68,394.7 C69.3,394.4 70.7,394 72,393.6 C73.3,393.2 74.7,392.8 76,392.4 C77.3,391.9 78.7,391.4 80,390.9 C81.3,390.4 82.7,389.9 84,389.5 C85.3,389.1 86.7,388.9 88,388.5 C89.3,388.1 90.7,387.7 92,387.3 C93.3,386.9 94.7,386.4 96,385.8 C97.3,385.3 98.7,384.6 100,384 C101.3,383.4 102.7,383 104,382.2 C105.3,381.4 106.7,380.1 108,379.3 C109.3,378.5 110.7,378 112,377.3 C113.3,376.7 114.7,376 116,375.4 C117.3,374.7 118.7,374 120,373.3 C121.3,372.7 122.7,372.1 124,371.4 C125.3,370.8 126.7,369.9 128,369.5 C129.3,369.2 130.7,369.1 132,369.1 C133.3,369 134.7,369 136,369.1 C137.3,369.3 138.7,369.5 140,369.8 C141.3,370.1 142.7,370.6 144,371 C145.3,371.4 146.7,371.9 148,372.3 C149.3,372.8 151.3,373.6 152,373.9" fill="none" stroke="#7a7a10" stroke-width="0.45" stroke-dasharray="2.4,1.2" opacity="0.55"/>
<path d="M38.5,401.8 C42.1,401.8 54.8,401.8 60,401.6 C65.2,401.4 66.7,401.2 70,400.7 C73.3,400.2 76.7,399.4 80,398.8 C83.3,398.2 86.7,397.9 90,397.4 C93.3,396.9 97.4,396.7 100,395.8 C102.6,394.9 103.5,393.4 105.7,392 C108,390.6 110.9,388.7 113.5,387.3 C116.1,385.9 118.7,384.6 121.3,383.5 C123.9,382.4 126,380.9 129.1,380.5 C132.2,380.1 135.7,380.1 140,381 C144.3,381.9 152.2,384.8 154.7,385.6" fill="none" stroke="#19963A" stroke-width="0.8" />
<path d="M105.7,394.5 C107,393.8 110.9,391.3 113.5,390 C116.1,388.7 118.7,387.4 121.3,386.5 C123.9,385.6 126,384.8 129.1,384.5 C132.2,384.2 135.8,384.2 140,385 C144.2,385.8 151.9,388.8 154.3,389.5" fill="none" stroke="#19963A" stroke-width="0.8" />
<path d="M153.7,395 C158.1,395.1 174.5,395.2 180,395.7 C185.5,396.1 184.5,397 186.8,397.7 C189.1,398.4 191.3,399.3 193.6,400 C195.8,400.7 198.1,401.1 200.3,401.7 C202.5,402.3 204.8,402.9 207,403.7 C209.2,404.5 211.5,405.5 213.7,406.4 C215.9,407.2 217.1,407.5 220,408.8 C222.9,410.1 227.3,412.9 230.9,414.3 C234.5,415.8 239.1,416.4 241.8,417.5 C244.5,418.6 245.9,419.7 247.3,421 C248.7,422.3 248.6,423.9 250,425.5 C251.4,427.1 253.7,428.9 255.5,430.5 C257.3,432.1 259.1,433.4 260.9,434.8 C262.7,436.2 264.6,437.8 266.4,439.2 C268.2,440.6 270,442.2 271.8,443.5 C273.6,444.8 275.9,446 277.3,446.8 C278.7,447.6 278.4,447.3 280,448.1 C281.6,448.9 284.5,450.3 286.7,451.4 C288.9,452.5 291.2,453.9 293.4,454.8 C295.6,455.7 297.9,456.3 300.1,456.8 C302.3,457.3 304.6,457.6 306.8,457.7 C309.1,457.8 311.4,457.8 313.6,457.4 C315.9,457 318.1,456.3 320.3,455.4 C322.5,454.5 324.8,453.1 327,452.1 C329.2,451.1 331.5,450.3 333.7,449.4 C335.9,448.5 336.6,448.3 340,446.7 C343.4,445.1 348.6,442.2 353.9,439.7 C359.2,437.2 365.8,433.7 371.8,431.6 C377.8,429.5 383.7,428.4 389.7,427.2 C395.7,426 403.3,425 407.6,424.5 C411.9,424 414.4,424.1 415.7,424" fill="none" stroke="#19963A" stroke-width="0.8" />
<path d="M154.1,391 C158.4,391.1 172.4,391 180,391.5 C187.6,392 193.3,392.6 200,394 C206.7,395.4 214.2,398 220,400 C225.8,402 230.3,404 235,406 C239.7,408 243.9,409.7 248.4,412 C252.9,414.3 257.3,417.3 261.8,420 C266.3,422.7 270.6,425.3 275.3,428 C280,430.7 285.3,433.8 290,436 C294.7,438.2 299.4,440.2 303.6,441 C307.8,441.8 310.6,441.7 315,441 C319.4,440.3 325,438.3 330,437 C335,435.7 342.5,433.7 345,433" fill="none" stroke="#19963A" stroke-width="0.8" />
<path d="M38.5,399.9 C40.4,400 46.4,400.3 50,400.4 C53.6,400.5 57.5,400.5 60,400.3 C62.5,400.1 63.3,399.6 65,399.3 C66.7,399 68.3,398.7 70,398.3 C71.7,397.9 73.3,397.4 75,396.9 C76.7,396.4 78.3,395.8 80,395.2 C81.7,394.6 83.3,393.9 85,393.4 C86.7,392.9 88.3,392.8 90,392.3 C91.7,391.8 93.3,391.2 95,390.6 C96.7,390 98.2,389.1 100,388.4 C101.8,387.7 104.4,387 105.7,386.2 C107,385.4 106.7,384.5 108,383.7 C109.3,382.9 111.3,382.4 113.5,381.3 C115.7,380.2 118.7,378.7 121.3,377.4 C123.9,376.1 126.5,374.1 129.1,373.5 C131.7,372.9 135.2,373.4 137,373.5 C138.8,373.6 138.4,373.7 140,374.1 C141.6,374.6 144.5,375.4 146.7,376.2 C148.9,377 152,378.1 153.4,378.8 C154.8,379.5 154.9,380.2 155.2,380.5" fill="none" stroke="#4A2A12" stroke-width="0.95" />
<path d="M154.4,388.2 C156.5,388.2 162.5,388.2 166.8,388 C171.1,387.8 176.9,387.6 180.3,387.2 C183.7,386.8 183.7,386 187,385.6 C190.3,385.2 195.1,385 200,384.9 C204.9,384.8 212.1,384.4 216.3,384.7 C220.5,385 222.6,385.8 225,386.8 C227.4,387.8 228.7,389.5 230.6,390.7 C232.5,391.9 234.3,393.1 236.2,394.1 C238.1,395.1 239.9,396.1 241.8,396.9 C243.7,397.6 245.5,397.9 247.4,398.6 C249.3,399.4 251.1,400.2 253,401.4 C254.9,402.6 256.8,404.4 258.6,405.8 C260.5,407.2 262.2,408.5 264.1,409.7 C266,410.9 267.8,411.7 269.7,413.1 C271.6,414.5 273.2,416.2 275.3,418 C277.4,419.8 279.8,422.2 282,424 C284.2,425.8 286.5,427.6 288.7,428.7 C290.9,429.8 292.5,429.7 295,430.5 C297.5,431.3 300.3,433.4 303.6,433.5 C306.9,433.6 311,432.1 314.7,431.3 C318.4,430.6 322.2,429.7 325.9,429 C329.6,428.3 333.4,427.7 337.1,427 C340.8,426.3 344,425.9 348.3,425 C352.6,424.1 359.2,422.3 362.8,421.5 C366.4,420.7 367.5,420.8 370,420 C372.5,419.2 373.4,417.9 378,416.7 C382.6,415.5 391,414.1 397.3,412.9 C403.6,411.7 412.6,410.2 415.7,409.6" fill="none" stroke="#4A2A12" stroke-width="0.95" />
<path d="M161.1,404.4 C162,404.5 164.6,405.1 166.7,405.1 C168.8,405.1 171.2,404.3 173.4,404.4 C175.6,404.5 177.9,405 180.1,405.7 C182.3,406.4 184.6,407.6 186.8,408.4 C189.1,409.2 191.3,409.6 193.6,410.4 C195.8,411.2 198.1,412.1 200.3,413.1 C202.5,414.1 204.8,415.6 207,416.5 C209.2,417.4 211.5,417.8 213.7,418.5 C215.9,419.2 218,420.1 220,420.8 C222,421.6 223.7,422.3 225.5,423 C227.3,423.7 229.1,424.6 230.9,425.2 C232.7,425.8 234.6,426.3 236.4,426.8 C238.2,427.3 240,427.7 241.8,428.4 C243.6,429.1 245.9,430 247.3,431 C248.7,432 248.6,433.3 250,434.5 C251.4,435.7 253.7,436.8 255.5,438.1 C257.3,439.4 259.1,440.8 260.9,442.4 C262.7,444 264.6,446.1 266.4,447.9 C268.2,449.7 270,451.8 271.8,453.4 C273.6,455 275.9,456.6 277.3,457.7 C278.7,458.8 278.4,458.7 280,460 C281.6,461.3 284.5,464 286.7,465.5 C288.9,467 291.2,468 293.4,468.9 C295.6,469.8 297.9,470.2 300.1,470.6 C302.3,471 304.6,471.1 306.8,471.1 C309.1,471.1 311.4,471.1 313.6,470.6 C315.9,470.1 318.1,469.2 320.3,468.2 C322.5,467.2 324.8,465.9 327,464.8 C329.2,463.7 331.5,462.6 333.7,461.5 C335.9,460.4 338.1,459.8 340,458.5 C341.9,457.2 342.6,455.9 344.9,454 C347.2,452.1 350.9,448.9 353.9,446.8 C356.9,444.7 359.8,442.7 362.8,441.5 C365.8,440.3 368.8,440.1 371.8,439.7 C374.8,439.2 377.7,439.1 380.7,438.8 C383.7,438.5 386.7,438.5 389.7,437.9 C392.7,437.3 395.6,435.8 398.6,435.2 C401.6,434.6 404.8,434.3 407.6,434.3 C410.5,434.3 414.4,434.9 415.7,435" fill="none" stroke="#1b5cc0" stroke-width="0.95" />
<path d="M38.5,387.1 C40.4,387.2 46.4,387.5 50,387.6 C53.6,387.8 57.5,388.2 60,388 C62.5,387.8 63.3,387.1 65,386.5 C66.7,385.9 68.3,385.2 70,384.6 C71.7,384 73.3,383.6 75,383 C76.7,382.4 77.5,381.6 80,380.8 C82.5,380 87,379 90,378 C93,377 95.2,376.3 97.8,375 C100.4,373.7 103.1,371.9 105.7,370.4 C108.3,368.8 110.9,367.1 113.5,365.7 C116.1,364.2 118.7,362.9 121.3,361.7 C123.9,360.5 126.5,359.1 129.1,358.6 C131.7,358.2 134.4,358.6 137,359 C139.6,359.4 142.1,360.1 144.8,361 C147.5,361.9 151.4,363.4 153.4,364.1 C155.4,364.8 156.3,365.2 156.8,365.4" fill="none" stroke="#1FA8BE" stroke-width="1.15" />
<path d="M155.8,374.8 C157.7,374.7 163.8,374.4 166.8,374.1 C169.8,373.8 171.3,373.3 173.6,373.1 C175.8,372.9 178.1,372.9 180.3,372.8 C182.5,372.8 183.7,372.9 187,372.8 C190.3,372.7 196.5,372.5 200,372.2 C203.5,371.9 205.3,371.5 208,371 C210.7,370.5 213.5,369.2 216.3,369 C219.1,368.8 221.7,369.4 225,370 C228.3,370.6 232.5,371.5 236.2,372.8 C239.9,374.1 243.7,376.2 247.4,377.9 C251.1,379.6 254.9,381.2 258.6,382.9 C262.3,384.6 266.6,386.3 269.7,387.9 C272.8,389.5 273.8,390.6 277,392.5 C280.2,394.4 285.6,397.9 288.7,399.2 C291.8,400.5 293.1,400.1 295.8,400.5 C298.5,400.9 301.7,401.4 304.7,401.7 C307.7,402 310.7,402.3 313.7,402.3 C316.7,402.3 319.7,401.9 322.6,401.7 C325.5,401.5 328.1,401.1 331,401 C333.9,400.9 337,400.7 340,400.8 C343,400.9 346.2,401.6 349.2,401.5 C352.2,401.4 354.8,400.9 358,400.5 C361.2,400.1 365.2,399.7 368.5,399.4 C371.8,399.1 373.2,398.8 378,398.5 C382.8,398.2 391,397.9 397.3,397.5 C403.6,397.1 412.6,396.4 415.7,396.2" fill="none" stroke="#1FA8BE" stroke-width="1.15" />
<path d="M38.5,403.4 C40.4,403.4 47.2,403.2 50,403.3 C52.8,403.4 53.3,403.8 55,404 C56.7,404.2 58.3,404.5 60,404.6 C61.7,404.8 63.3,405 65,404.9 C66.7,404.8 68.3,404.3 70,404 C71.7,403.7 73.3,403.5 75,403.2 C76.7,402.9 77.5,402.7 80,402.4 C82.5,402.1 86.7,402 90,401.5 C93.3,401 97.4,400.4 100,399.6 C102.6,398.9 103.5,398.2 105.7,397 C108,395.8 110.9,393.6 113.5,392.3 C116.1,391 118.7,389.9 121.3,389.1 C123.9,388.3 126.5,387.9 129.1,387.6 C131.7,387.4 134.4,387.4 137,387.6 C139.6,387.9 142.2,388.5 144.8,389.1 C147.4,389.8 151.1,390.8 152.6,391.5 C154.1,392.2 153.7,393.1 153.9,393.4" fill="none" stroke="#E3122E" stroke-width="0.9" />
<path d="M152.9,402.8 C153.8,402.9 157,403.2 158.4,403.5 C159.8,403.8 159.7,403.9 161.1,404.4 C162.5,404.9 164.6,405.4 166.7,406.4 C168.8,407.4 171.2,409.3 173.4,410.4 C175.6,411.5 177.9,412.2 180.1,413.1 C182.3,414 184.6,414.7 186.8,415.8 C189.1,416.9 191.3,418.8 193.6,419.8 C195.8,420.8 198.1,420.8 200.3,421.8 C202.5,422.8 204.8,424.4 207,425.9 C209.2,427.4 211.5,429.2 213.7,430.6 C215.9,432 218,433.5 220,434.5 C222,435.5 223.7,435.4 225.5,436.5 C227.3,437.6 229.1,439.4 230.9,441 C232.7,442.6 234.6,445.1 236.4,446.4 C238.2,447.7 240,447.7 241.8,448.6 C243.6,449.5 245.9,450.9 247.3,452 C248.7,453.1 248.6,453.5 250,455 C251.4,456.5 253.7,459.3 255.5,461 C257.3,462.7 259.1,463.9 260.9,465.3 C262.7,466.8 264.6,468.4 266.4,469.7 C268.2,471 270,471.9 271.8,473 C273.6,474.1 275.9,475.3 277.3,476.3 C278.7,477.3 278.4,477.6 280,479 C281.6,480.4 284.5,483.6 286.7,485 C288.9,486.4 291.2,486.9 293.4,487.7 C295.6,488.5 297.9,489.3 300.1,489.7 C302.3,490.1 304.6,490.1 306.8,489.9 C309.1,489.7 311.4,489.1 313.6,488.3 C315.9,487.5 318.1,486.3 320.3,485 C322.5,483.7 324.8,481.7 327,480.3 C329.2,478.9 331.5,477.9 333.7,476.9 C335.9,475.8 338.1,475.1 340,474 C341.9,472.9 342.6,471.8 344.9,470.1 C347.2,468.4 350.9,465.7 353.9,463.8 C356.9,461.9 359.8,460.1 362.8,458.5 C365.8,456.9 368.8,455.4 371.8,454 C374.8,452.6 377.7,451.1 380.7,450.4 C383.7,449.6 386.7,449.6 389.7,449.5 C392.7,449.4 395.6,449.1 398.6,449.5 C401.6,449.9 404.8,451.6 407.6,452.2 C410.5,452.8 414.4,453 415.7,453.1" fill="none" stroke="#E3122E" stroke-width="0.9" />
<path d="M267.1,364.1 C268.9,364.5 274.5,365.7 278,366.5 C281.5,367.3 286.6,368.7 288.3,369.1" fill="none" stroke="#a8a8a8" stroke-width="0.55" />
<path d="M268.2,372.1 C269.7,373 274,375.6 277,377.5 C280,379.4 284.8,382.2 286.3,383.2" fill="none" stroke="#a8a8a8" stroke-width="0.55" />
<path d="M267.1,379.2 C268.4,380 272.5,382.5 275,384.2 C277.5,385.9 281,388.4 282.2,389.2" fill="none" stroke="#a8a8a8" stroke-width="0.55" />
<path d="M297.3,369.1 C298.8,369.3 303,370 306,370.5 C309,371 313.9,371.8 315.5,372.1" fill="none" stroke="#a8a8a8" stroke-width="0.55" />
<path d="M293.3,376.2 L299.4,377.2" fill="none" stroke="#a8a8a8" stroke-width="0.55" />
<path d="M291.3,390.2 C292.6,390.5 296.3,391.3 299,391.8 C301.7,392.3 306,393.1 307.4,393.3" fill="none" stroke="#a8a8a8" stroke-width="0.55" />
<path d="M295.3,396.3 C296.4,396.5 299.6,397 302,397.3 C304.4,397.6 308.2,398.1 309.4,398.3" fill="none" stroke="#a8a8a8" stroke-width="0.55" />
<path d="M311.4,389.2 L321.5,389.2" fill="none" stroke="#a8a8a8" stroke-width="0.55" />
<path d="M323.5,368.1 C325.4,368.4 331.7,369.4 335,370.1 C338.3,370.8 341.9,371.9 343.3,372.3" fill="none" stroke="#a8a8a8" stroke-width="0.55" />
<path d="M323.5,374.1 C325.4,374.5 331.7,375.6 335,376.5 C338.3,377.4 341.9,379 343.3,379.5" fill="none" stroke="#a8a8a8" stroke-width="0.55" />
<path d="M323.5,380.2 C325.4,380.6 331.5,381.6 335,382.5 C338.5,383.4 342.8,385.1 344.3,385.6" fill="none" stroke="#a8a8a8" stroke-width="0.55" />
<path d="M323.5,389.2 C325.4,389.6 331.7,390.4 335,391.5 C338.3,392.6 341.9,395.1 343.3,395.8" fill="none" stroke="#a8a8a8" stroke-width="0.55" />
<path d="M353.5,394.8 L365.7,396.8" fill="none" stroke="#a8a8a8" stroke-width="0.55" />
<path d="M386.1,382.5 C387.2,382.2 390.6,381.5 393,381 C395.4,380.5 399.2,379.8 400.4,379.5" fill="none" stroke="#a8a8a8" stroke-width="0.55" />
<path d="M386.1,396.8 C387.6,396.7 392.1,396.5 395,396.3 C397.9,396.1 402,395.9 403.4,395.8" fill="none" stroke="#a8a8a8" stroke-width="0.55" />
<path d="M72.9,380 C73.6,379.7 75.5,378.6 77,378 C78.5,377.4 81,376.4 81.8,376.1" fill="none" stroke="#a8a8a8" stroke-width="0.55" />
<path d="M40.7,372 C41.8,371.6 44.8,370.6 47,369.8 C49.2,369.1 52.9,367.9 54.1,367.5" fill="none" stroke="#a8a8a8" stroke-width="0.55" />
<line x1="118.6" y1="353.3" x2="118.6" y2="504.7" stroke="#3a2a2a" stroke-width="0.7" />
<line x1="215.4" y1="353.3" x2="215.4" y2="504.7" stroke="#b8b0b0" stroke-width="0.6" />
<line x1="322.6" y1="353.3" x2="322.6" y2="504.7" stroke="#3a2a2a" stroke-width="0.7" />
<line x1="128.8" y1="342.5" x2="128.8" y2="393.5" stroke="#3a3aa8" stroke-width="1.3" />
<line x1="378.4" y1="342.5" x2="378.4" y2="448.5" stroke="#3a3aa8" stroke-width="1.2" />
<path d="M49.6,385.8 L41.6,409" fill="none" stroke="#222" stroke-width="0.7"/>
<path d="M59.1,385.4 L52,413.5" fill="none" stroke="#222" stroke-width="0.7"/>
<path d="M68.8,384.3 L65.2,410" fill="none" stroke="#222" stroke-width="0.7"/>
<path d="M71.1,385.8 L71.6,403.7" fill="none" stroke="#222" stroke-width="0.7"/>
<path d="M109.6,370.6 L105.1,398.3" fill="none" stroke="#222" stroke-width="0.7"/>
<path d="M176.5,379.2 L168.1,420.5" fill="none" stroke="#222" stroke-width="0.7"/>
<path d="M186.5,379.2 L179.7,406.9" fill="none" stroke="#222" stroke-width="0.7"/>
<path d="M199.7,381 L188.9,431.2" fill="none" stroke="#222" stroke-width="0.7"/>
<path d="M211.9,387.2 L215,440" fill="none" stroke="#222" stroke-width="0.7"/>
<path d="M233.5,371.8 L224.4,418.1" fill="none" stroke="#222" stroke-width="0.7"/>
<path d="M247.3,415.9 L233.1,461.7" fill="none" stroke="#222" stroke-width="0.7"/>
<path d="M249.3,427.3 L256.2,475" fill="none" stroke="#222" stroke-width="0.7"/>
<path d="M256.5,405 L257.9,440" fill="none" stroke="#222" stroke-width="0.7"/>
<path d="M247.2,416.7 L243.6,440" fill="none" stroke="#222" stroke-width="0.7"/>
<path d="M279.4,409.5 L277.9,440" fill="none" stroke="#222" stroke-width="0.7"/>
<path d="M317,403.3 L316,424.7" fill="none" stroke="#222" stroke-width="0.7"/>
<path d="M332.1,401 L338.1,436.6" fill="none" stroke="#222" stroke-width="0.7"/>
<path d="M344.2,402.4 L346.9,433.9" fill="none" stroke="#222" stroke-width="0.7"/>
<path d="M363.6,401 L358.9,425.9 L355.6,455" fill="none" stroke="#222" stroke-width="0.7"/>
<path d="M367.7,401 L365.7,421.8" fill="none" stroke="#222" stroke-width="0.7"/>
<path d="M340.1,438 L335.4,455" fill="none" stroke="#222" stroke-width="0.7"/>
<path d="M373,427.2 L371,455" fill="none" stroke="#222" stroke-width="0.7"/>
<path d="M283.2,466.2 L290.8,495.4" fill="none" stroke="#222" stroke-width="0.7"/>
<path d="M271.1,447.1 L267.1,484.4" fill="none" stroke="#222" stroke-width="0.7"/>
<path d="M275.1,450.1 L263.1,482.3" fill="none" stroke="#222" stroke-width="0.7"/>
<path d="M255,468.3 L257,479.3" fill="none" stroke="#222" stroke-width="0.7"/>
<path d="M315.4,436 L314.4,444.1" fill="none" stroke="#222" stroke-width="0.7"/>
<path d="M323.5,454.2 L320.4,490.4" fill="none" stroke="#222" stroke-width="0.7"/>
<path d="M339.6,440.1 L333.5,457.2" fill="none" stroke="#222" stroke-width="0.7"/>
<path d="M337.5,470.3 L335.5,489.4" fill="none" stroke="#222" stroke-width="0.7"/>
<path d="M277.1,430 L275.1,444.1" fill="none" stroke="#222" stroke-width="0.7"/>
<path d="M354.8,443.3 L347.6,488" fill="none" stroke="#222" stroke-width="0.7"/>
<path d="M367.3,433.4 L364.6,462.9" fill="none" stroke="#222" stroke-width="0.7"/>
<path d="M373.6,428 L368.2,464.7" fill="none" stroke="#222" stroke-width="0.7"/>
<path d="M395,440.6 L389.7,473.7" fill="none" stroke="#222" stroke-width="0.7"/>
<path d="M406.7,427.2 L401.3,464.7" fill="none" stroke="#222" stroke-width="0.7"/>
<path d="M387.9,420 L386.1,430.7" fill="none" stroke="#222" stroke-width="0.7"/>
<path d="M398.6,420 L397.7,428.9" fill="none" stroke="#222" stroke-width="0.7"/>
<path d="M158.1,353.3 L155.6,392 L149.7,429.5" fill="none" stroke="#111" stroke-width="1.1"/>
<path d="M245,353.3 L240.9,394.3 L230.4,442.1" fill="none" stroke="#3a3a3a" stroke-width="0.8"/>
<line x1="218.3" y1="369.1" x2="233.6" y2="475" stroke="#151515" stroke-width="0.9" />
<path d="M148.5,411.3 L151.6,408.3 L149.3,417.8" fill="none" stroke="#111" stroke-width="1.1" stroke-linejoin="round"/>
<path d="M232.2,447.5 L233.5,457.5" fill="none" stroke="#151515" stroke-width="0.9" stroke-linecap="round"/><path d="M233.5,457.5 L235.2,451.5 L232.9,453 Z" fill="#151515" stroke="#151515" stroke-width="0.5" stroke-linejoin="round"/>
<circle cx="229.7" cy="468.2" r="1.6" fill="none" stroke="#151515" stroke-width="0.8"/>
<circle cx="234.8" cy="468.2" r="1.6" fill="none" stroke="#151515" stroke-width="0.8"/><circle cx="234.8" cy="468.2" r="0.6" fill="#151515"/>
<text x="220" y="481.8" font-family='"Liberation Sans", sans-serif' font-size="6.5" font-weight="bold" font-style="normal" fill="#1c0c0e" text-anchor="start" textLength="31.9" lengthAdjust="spacingAndGlyphs" stroke="#1c0c0e" stroke-width="0.25">NW-striking</text>
<text x="220" y="488.6" font-family='"Liberation Sans", sans-serif' font-size="6.5" font-weight="bold" font-style="normal" fill="#1c0c0e" text-anchor="start" textLength="34.7" lengthAdjust="spacingAndGlyphs" stroke="#1c0c0e" stroke-width="0.25">transfer fault</text>
<rect x="299.4" y="375.4" width="7.4" height="5.9" fill="#fff" stroke="#666" stroke-width="0.4"/><text x="303.1" y="379.9" font-family='"Liberation Sans", sans-serif' font-size="4.4" font-weight="bold" font-style="normal" fill="#111" text-anchor="middle" textLength="5.2" lengthAdjust="spacingAndGlyphs">NG</text>
<rect x="299.4" y="400.4" width="7.8" height="5.9" fill="#fff" stroke="#666" stroke-width="0.4"/><text x="303.3" y="404.9" font-family='"Liberation Sans", sans-serif' font-size="4.4" font-weight="bold" font-style="normal" fill="#111" text-anchor="middle" textLength="5.6" lengthAdjust="spacingAndGlyphs">GF</text>
<rect x="299.9" y="418.1" width="8.4" height="5.8" fill="#fff" stroke="#666" stroke-width="0.4"/><text x="304.1" y="422.5" font-family='"Liberation Sans", sans-serif' font-size="4.4" font-weight="bold" font-style="normal" fill="#111" text-anchor="middle" textLength="6.2" lengthAdjust="spacingAndGlyphs">SUF</text>
<rect x="299.9" y="430.9" width="8.4" height="6" fill="#fff" stroke="#666" stroke-width="0.4"/><text x="304.1" y="435.4" font-family='"Liberation Sans", sans-serif' font-size="4.4" font-weight="bold" font-style="normal" fill="#111" text-anchor="middle" textLength="6.2" lengthAdjust="spacingAndGlyphs">SNF</text>
<rect x="299.9" y="455" width="8.4" height="6" fill="#fff" stroke="#666" stroke-width="0.4"/><text x="304.1" y="459.5" font-family='"Liberation Sans", sans-serif' font-size="4.4" font-weight="bold" font-style="normal" fill="#111" text-anchor="middle" textLength="6.2" lengthAdjust="spacingAndGlyphs">HCF</text>
<rect x="301.2" y="470.4" width="6.1" height="6.1" fill="#fff" stroke="#666" stroke-width="0.4"/><text x="304.2" y="475" font-family='"Liberation Sans", sans-serif' font-size="4.4" font-weight="bold" font-style="normal" fill="#111" text-anchor="middle" textLength="3.9" lengthAdjust="spacingAndGlyphs">LP</text>
<rect x="301.2" y="487.9" width="6.1" height="5.8" fill="#fff" stroke="#666" stroke-width="0.4"/><text x="304.2" y="492.3" font-family='"Liberation Sans", sans-serif' font-size="4.4" font-weight="bold" font-style="normal" fill="#111" text-anchor="middle" textLength="3.9" lengthAdjust="spacingAndGlyphs">BM</text>
<line x1="46" y1="491.9" x2="84.8" y2="491.9" stroke="#151515" stroke-width="1.9" />
<line x1="46.4" y1="488" x2="46.4" y2="492.5" stroke="#151515" stroke-width="0.9" />
<line x1="65.5" y1="488" x2="65.5" y2="492.5" stroke="#151515" stroke-width="0.9" />
<line x1="84.4" y1="488" x2="84.4" y2="492.5" stroke="#151515" stroke-width="0.9" />
<text x="46.4" y="487.3" font-family='"Liberation Sans", sans-serif' font-size="5.4" font-weight="normal" font-style="normal" fill="#111" text-anchor="middle">0</text>
<text x="65.5" y="487.3" font-family='"Liberation Sans", sans-serif' font-size="5.4" font-weight="normal" font-style="normal" fill="#111" text-anchor="middle">5</text>
<text x="84.4" y="487.3" font-family='"Liberation Sans", sans-serif' font-size="5.4" font-weight="normal" font-style="normal" fill="#111" text-anchor="middle">10</text>
<text x="65.5" y="499.3" font-family='"Liberation Sans", sans-serif' font-size="5.8" font-weight="bold" font-style="normal" fill="#111" text-anchor="middle" textLength="9" lengthAdjust="spacingAndGlyphs">KM</text>
<rect x="38.5" y="353.3" width="377.2" height="151.4" fill="none" stroke="#555" stroke-width="1.1"/>
<line x1="38.5" y1="504.7" x2="415.7" y2="504.7" stroke="#4a1a22" stroke-width="1.2" />
<line x1="35" y1="353.3" x2="38.5" y2="353.3" stroke="#444" stroke-width="0.9" />
<text x="33.2" y="355.5" font-family='"Liberation Sans", sans-serif' font-size="6.2" font-weight="normal" font-style="normal" fill="#222" text-anchor="end" textLength="8" lengthAdjust="spacingAndGlyphs">0.0</text>
<line x1="35" y1="391" x2="38.5" y2="391" stroke="#444" stroke-width="0.9" />
<text x="33.2" y="393.2" font-family='"Liberation Sans", sans-serif' font-size="6.2" font-weight="normal" font-style="normal" fill="#222" text-anchor="end" textLength="8" lengthAdjust="spacingAndGlyphs">1.0</text>
<line x1="35" y1="428.7" x2="38.5" y2="428.7" stroke="#444" stroke-width="0.9" />
<text x="33.2" y="430.9" font-family='"Liberation Sans", sans-serif' font-size="6.2" font-weight="normal" font-style="normal" fill="#222" text-anchor="end" textLength="8" lengthAdjust="spacingAndGlyphs">2.0</text>
<line x1="35" y1="466.4" x2="38.5" y2="466.4" stroke="#444" stroke-width="0.9" />
<text x="33.2" y="468.6" font-family='"Liberation Sans", sans-serif' font-size="6.2" font-weight="normal" font-style="normal" fill="#222" text-anchor="end" textLength="8" lengthAdjust="spacingAndGlyphs">3.0</text>
<line x1="35" y1="504.1" x2="38.5" y2="504.1" stroke="#444" stroke-width="0.9" />
<text x="33.2" y="506.3" font-family='"Liberation Sans", sans-serif' font-size="6.2" font-weight="normal" font-style="normal" fill="#222" text-anchor="end" textLength="8" lengthAdjust="spacingAndGlyphs">4.0</text>
<line x1="415.7" y1="353.5" x2="418.5" y2="353.5" stroke="#444" stroke-width="0.9" />
<line x1="415.7" y1="429.5" x2="418.5" y2="429.5" stroke="#444" stroke-width="0.9" />
<line x1="415.7" y1="504.3" x2="418.5" y2="504.3" stroke="#444" stroke-width="0.9" />
<text x="420.3" y="356.3" font-family='"Liberation Sans", sans-serif' font-size="5.8" font-weight="normal" font-style="normal" fill="#333" text-anchor="start">0 m</text>
<text x="420.3" y="431.6" font-family='"Liberation Sans", sans-serif' font-size="5.8" font-weight="normal" font-style="normal" fill="#333" text-anchor="start" textLength="19.7" lengthAdjust="spacingAndGlyphs">3048 m</text>
<text x="420.3" y="506.4" font-family='"Liberation Sans", sans-serif' font-size="5.8" font-weight="normal" font-style="normal" fill="#333" text-anchor="start" textLength="19.7" lengthAdjust="spacingAndGlyphs">5486 m</text>
<text x="3.9" y="348.5" font-family='"Liberation Sans", sans-serif' font-size="5.6" font-weight="normal" font-style="normal" fill="#333" text-anchor="start" textLength="25.6" lengthAdjust="spacingAndGlyphs">TWT (Sec)</text>
<text x="38.5" y="349.8" font-family='"Liberation Sans", sans-serif' font-size="5.4" font-weight="normal" font-style="normal" fill="#333" text-anchor="start">NW</text>
<text x="410" y="349" font-family='"Liberation Sans", sans-serif' font-size="4.8" font-weight="normal" font-style="normal" fill="#333" text-anchor="start">SE</text>
<text x="114.3" y="339.8" font-family='"Liberation Sans", sans-serif' font-size="6.4" font-weight="bold" font-style="normal" fill="#222" text-anchor="start" textLength="35.4" lengthAdjust="spacingAndGlyphs">Totek Hills 1</text>
<text x="111.1" y="348.8" font-family='"Liberation Sans", sans-serif' font-size="5.6" font-weight="bold" font-style="normal" fill="#222" text-anchor="start" textLength="14.9" lengthAdjust="spacingAndGlyphs">TA-04</text>
<text x="207.4" y="348.8" font-family='"Liberation Sans", sans-serif' font-size="5.6" font-weight="bold" font-style="normal" fill="#222" text-anchor="start" textLength="15.2" lengthAdjust="spacingAndGlyphs">TA-03</text>
<text x="314.6" y="348.8" font-family='"Liberation Sans", sans-serif' font-size="5.6" font-weight="bold" font-style="normal" fill="#222" text-anchor="start" textLength="15.5" lengthAdjust="spacingAndGlyphs">TA-02</text>
<text x="367" y="340.4" font-family='"Liberation Sans", sans-serif' font-size="6.6" font-weight="bold" font-style="normal" fill="#222" text-anchor="start" textLength="29" lengthAdjust="spacingAndGlyphs">Nunivak 1</text>
<circle cx="45" cy="514.9" r="1.5" fill="none" stroke="#222" stroke-width="0.8"/>
<circle cx="149.4" cy="515.3" r="1.5" fill="#222"/>
<text x="49.3" y="516.7" font-family='"Liberation Sans", sans-serif' font-size="4.6" font-weight="normal" font-style="normal" fill="#222" text-anchor="start" textLength="87.4" lengthAdjust="spacingAndGlyphs">Fault block moving towards the reader</text>
<text x="153.5" y="517.1" font-family='"Liberation Sans", sans-serif' font-size="4.6" font-weight="normal" font-style="normal" fill="#222" text-anchor="start" textLength="93.6" lengthAdjust="spacingAndGlyphs">Fault block moving away from the reader</text>
<text x="214" y="543.5" font-family='"Liberation Serif", serif' font-size="12" font-weight="bold" font-style="normal" fill="#231f20" text-anchor="start" textLength="16.3" lengthAdjust="spacingAndGlyphs">(B)</text>
</svg>
</body></html>
